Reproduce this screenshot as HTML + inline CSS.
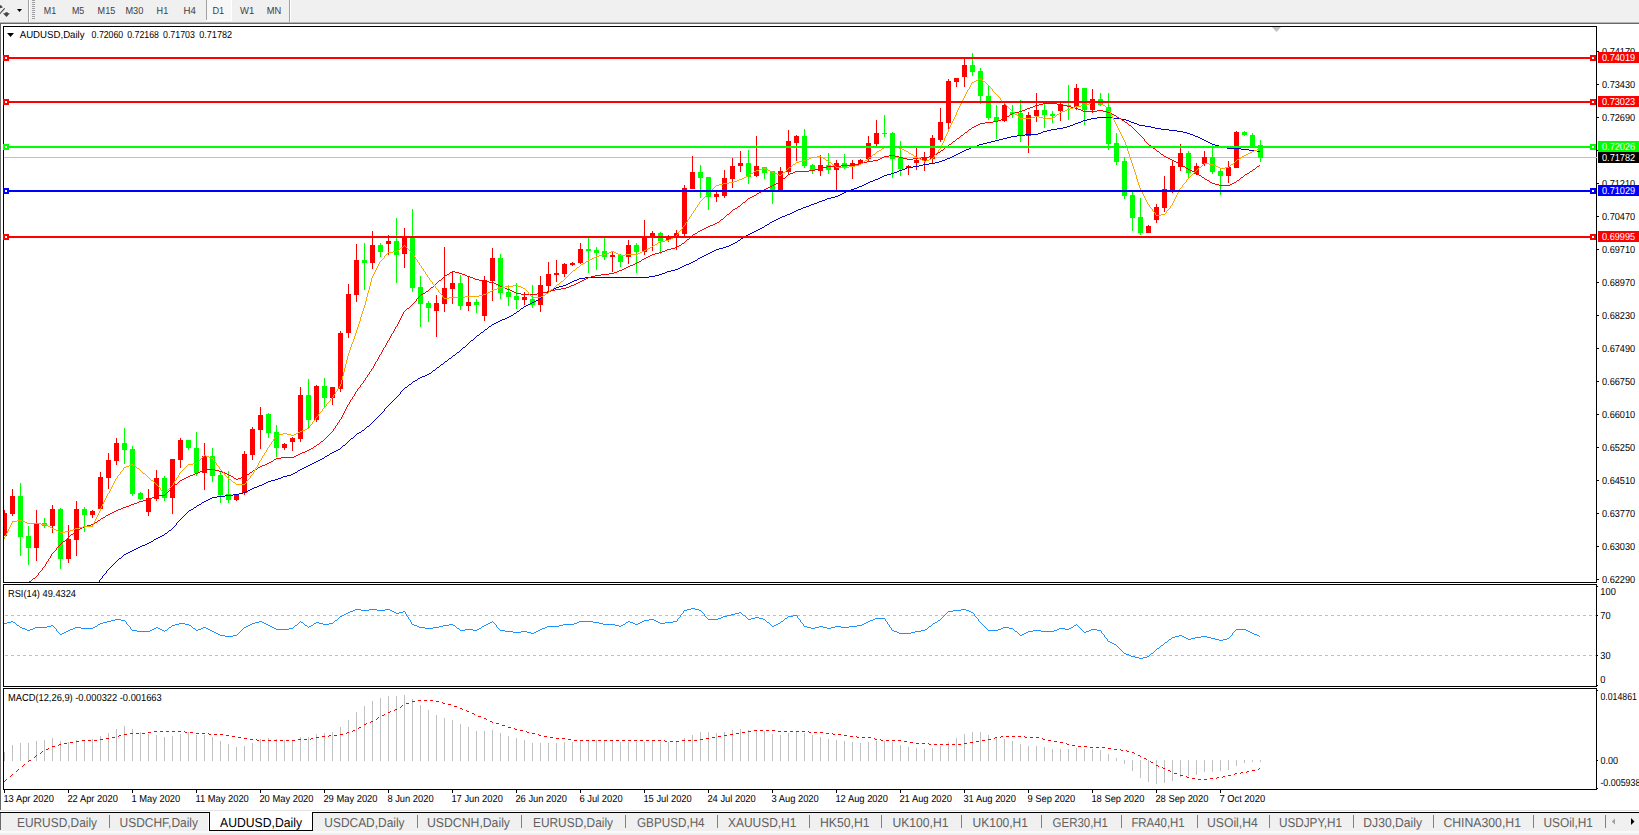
<!DOCTYPE html>
<html lang="en"><head><meta charset="utf-8"><title>AUDUSD,Daily</title>
<style>html,body{margin:0;padding:0;background:#fff;overflow:hidden}body{width:1639px;height:835px;position:relative}svg{display:block;position:absolute;left:0;top:0;font-family:"Liberation Sans", sans-serif}text{white-space:pre}</style></head><body>
<svg width="1639" height="835" viewBox="0 0 1639 835" text-rendering="geometricPrecision">
<g shape-rendering="crispEdges">
<rect x="0" y="0" width="1639" height="835" fill="#ffffff"/>
<rect x="0" y="0" width="1639" height="22" fill="#f0f0f0"/>
<rect x="0" y="22" width="1639" height="1" fill="#b4b4b4"/>
<rect x="0" y="23" width="1639" height="1" fill="#696969"/>
<rect x="0" y="24" width="1" height="787" fill="#696969"/>
<rect x="28" y="0" width="1" height="22" fill="#a0a0a0"/>
<rect x="29" y="0" width="1" height="22" fill="#ffffff"/>
<rect x="32" y="0" width="3" height="1" fill="#a0a0a0"/>
<rect x="32" y="2" width="3" height="1" fill="#a0a0a0"/>
<rect x="32" y="4" width="3" height="1" fill="#a0a0a0"/>
<rect x="32" y="6" width="3" height="1" fill="#a0a0a0"/>
<rect x="32" y="8" width="3" height="1" fill="#a0a0a0"/>
<rect x="32" y="10" width="3" height="1" fill="#a0a0a0"/>
<rect x="32" y="12" width="3" height="1" fill="#a0a0a0"/>
<rect x="32" y="14" width="3" height="1" fill="#a0a0a0"/>
<rect x="32" y="16" width="3" height="1" fill="#a0a0a0"/>
<rect x="32" y="18" width="3" height="1" fill="#a0a0a0"/>
<rect x="206" y="0" width="1" height="20" fill="#a0a0a0"/>
<rect x="207" y="0" width="24" height="20" fill="#f7f7f7"/>
<rect x="231" y="0" width="1" height="21" fill="#fff"/>
<rect x="206" y="20" width="26" height="1" fill="#fff"/>
<rect x="289" y="0" width="1" height="22" fill="#a0a0a0"/>
<rect x="290" y="0" width="1" height="22" fill="#ffffff"/>
</g>
<g fill="#444444"><path d="M0 5.2 L1 5.2 L2.9 7.5 L0 8.3Z"/><path d="M0 12.7 L4.3 7.9 L5.1 8.7 L0 14.3Z"/><path d="M5.3 12.2 H7.8 V13.2 H9.9 L6.5 17 L2.9 13.2 H5.3Z"/></g>
<path d="M17 9 H22 L19.5 12Z" fill="#000"/>
<text x="43.8" y="14" font-size="10.2" fill="#404040" textLength="12.4" lengthAdjust="spacingAndGlyphs">M1</text>
<text x="71.9" y="14" font-size="10.2" fill="#404040" textLength="12.3" lengthAdjust="spacingAndGlyphs">M5</text>
<text x="97.6" y="14" font-size="10.2" fill="#404040" textLength="17.6" lengthAdjust="spacingAndGlyphs">M15</text>
<text x="125.4" y="14" font-size="10.2" fill="#404040" textLength="17.9" lengthAdjust="spacingAndGlyphs">M30</text>
<text x="156.6" y="14" font-size="10.2" fill="#404040" textLength="11.6" lengthAdjust="spacingAndGlyphs">H1</text>
<text x="183.6" y="14" font-size="10.2" fill="#404040" textLength="12.4" lengthAdjust="spacingAndGlyphs">H4</text>
<text x="212.4" y="14" font-size="10.2" fill="#404040" textLength="11.8" lengthAdjust="spacingAndGlyphs">D1</text>
<text x="240" y="14" font-size="10.2" fill="#404040" textLength="14.2" lengthAdjust="spacingAndGlyphs">W1</text>
<text x="266.8" y="14" font-size="10.2" fill="#404040" textLength="14.5" lengthAdjust="spacingAndGlyphs">MN</text>
<g shape-rendering="crispEdges">
<rect x="3" y="26" width="1594" height="1" fill="#000"/>
<rect x="3" y="582" width="1594" height="1" fill="#000"/>
<rect x="3" y="26" width="1" height="557" fill="#000"/>
<rect x="1596" y="26" width="1" height="557" fill="#000"/>
<rect x="3" y="584" width="1594" height="1" fill="#000"/>
<rect x="3" y="686" width="1594" height="1" fill="#000"/>
<rect x="3" y="584" width="1" height="103" fill="#000"/>
<rect x="1596" y="584" width="1" height="103" fill="#000"/>
<rect x="3" y="688" width="1594" height="1" fill="#000"/>
<rect x="3" y="789" width="1594" height="1" fill="#000"/>
<rect x="3" y="688" width="1" height="102" fill="#000"/>
<rect x="1596" y="688" width="1" height="102" fill="#000"/>
</g>
<path d="M1272 27 H1281 L1276.5 32Z" fill="#c0c0c0"/>
<clipPath id="cm"><rect x="4" y="27" width="1592" height="555"/></clipPath>
<g clip-path="url(#cm)" shape-rendering="crispEdges">
<rect x="4" y="157" width="1592" height="1" fill="#c0c0c0"/>
<rect x="4" y="510" width="1" height="26" fill="#ff0000"/>
<rect x="2" y="513" width="5" height="23" fill="#ff0000"/>
<rect x="12" y="489" width="1" height="27" fill="#ff0000"/>
<rect x="10" y="496" width="5" height="18" fill="#ff0000"/>
<rect x="20" y="483" width="1" height="73" fill="#00ff00"/>
<rect x="18" y="496" width="5" height="41" fill="#00ff00"/>
<rect x="28" y="526" width="1" height="39" fill="#00ff00"/>
<rect x="26" y="536" width="5" height="12" fill="#00ff00"/>
<rect x="36" y="510" width="1" height="51" fill="#ff0000"/>
<rect x="34" y="523" width="5" height="25" fill="#ff0000"/>
<rect x="44" y="518" width="1" height="10" fill="#00ff00"/>
<rect x="42" y="523" width="5" height="3" fill="#00ff00"/>
<rect x="52" y="505" width="1" height="28" fill="#ff0000"/>
<rect x="50" y="509" width="5" height="17" fill="#ff0000"/>
<rect x="60" y="508" width="1" height="61" fill="#00ff00"/>
<rect x="58" y="509" width="5" height="50" fill="#00ff00"/>
<rect x="68" y="525" width="1" height="38" fill="#ff0000"/>
<rect x="66" y="539" width="5" height="20" fill="#ff0000"/>
<rect x="76" y="501" width="1" height="55" fill="#ff0000"/>
<rect x="74" y="509" width="5" height="31" fill="#ff0000"/>
<rect x="84" y="507" width="1" height="25" fill="#00ff00"/>
<rect x="82" y="509" width="5" height="6" fill="#00ff00"/>
<rect x="92" y="510" width="1" height="8" fill="#ff0000"/>
<rect x="90" y="511" width="5" height="4" fill="#ff0000"/>
<rect x="100" y="472" width="1" height="37" fill="#ff0000"/>
<rect x="98" y="477" width="5" height="32" fill="#ff0000"/>
<rect x="108" y="453" width="1" height="36" fill="#ff0000"/>
<rect x="106" y="460" width="5" height="18" fill="#ff0000"/>
<rect x="116" y="438" width="1" height="27" fill="#ff0000"/>
<rect x="114" y="443" width="5" height="18" fill="#ff0000"/>
<rect x="124" y="428" width="1" height="36" fill="#00ff00"/>
<rect x="122" y="443" width="5" height="7" fill="#00ff00"/>
<rect x="132" y="446" width="1" height="50" fill="#00ff00"/>
<rect x="130" y="449" width="5" height="45" fill="#00ff00"/>
<rect x="140" y="492" width="1" height="8" fill="#00ff00"/>
<rect x="138" y="493" width="5" height="6" fill="#00ff00"/>
<rect x="148" y="489" width="1" height="27" fill="#ff0000"/>
<rect x="146" y="498" width="5" height="14" fill="#ff0000"/>
<rect x="156" y="470" width="1" height="31" fill="#ff0000"/>
<rect x="154" y="478" width="5" height="21" fill="#ff0000"/>
<rect x="164" y="476" width="1" height="25" fill="#00ff00"/>
<rect x="162" y="478" width="5" height="20" fill="#00ff00"/>
<rect x="172" y="459" width="1" height="55" fill="#ff0000"/>
<rect x="170" y="459" width="5" height="39" fill="#ff0000"/>
<rect x="180" y="438" width="1" height="30" fill="#ff0000"/>
<rect x="178" y="440" width="5" height="20" fill="#ff0000"/>
<rect x="188" y="440" width="1" height="10" fill="#00ff00"/>
<rect x="186" y="440" width="5" height="8" fill="#00ff00"/>
<rect x="196" y="432" width="1" height="44" fill="#00ff00"/>
<rect x="194" y="448" width="5" height="25" fill="#00ff00"/>
<rect x="204" y="443" width="1" height="47" fill="#ff0000"/>
<rect x="202" y="456" width="5" height="17" fill="#ff0000"/>
<rect x="212" y="448" width="1" height="34" fill="#00ff00"/>
<rect x="210" y="456" width="5" height="20" fill="#00ff00"/>
<rect x="220" y="472" width="1" height="31" fill="#00ff00"/>
<rect x="218" y="475" width="5" height="20" fill="#00ff00"/>
<rect x="228" y="471" width="1" height="32" fill="#00ff00"/>
<rect x="226" y="494" width="5" height="6" fill="#00ff00"/>
<rect x="236" y="495" width="1" height="6" fill="#ff0000"/>
<rect x="234" y="495" width="5" height="5" fill="#ff0000"/>
<rect x="244" y="451" width="1" height="44" fill="#ff0000"/>
<rect x="242" y="454" width="5" height="39" fill="#ff0000"/>
<rect x="252" y="427" width="1" height="33" fill="#ff0000"/>
<rect x="250" y="429" width="5" height="26" fill="#ff0000"/>
<rect x="260" y="407" width="1" height="42" fill="#ff0000"/>
<rect x="258" y="415" width="5" height="15" fill="#ff0000"/>
<rect x="268" y="413" width="1" height="25" fill="#00ff00"/>
<rect x="266" y="414" width="5" height="19" fill="#00ff00"/>
<rect x="276" y="425" width="1" height="32" fill="#00ff00"/>
<rect x="274" y="432" width="5" height="16" fill="#00ff00"/>
<rect x="284" y="443" width="1" height="7" fill="#ff0000"/>
<rect x="282" y="444" width="5" height="4" fill="#ff0000"/>
<rect x="292" y="437" width="1" height="14" fill="#ff0000"/>
<rect x="290" y="438" width="5" height="4" fill="#ff0000"/>
<rect x="300" y="387" width="1" height="55" fill="#ff0000"/>
<rect x="298" y="395" width="5" height="44" fill="#ff0000"/>
<rect x="308" y="379" width="1" height="49" fill="#00ff00"/>
<rect x="306" y="395" width="5" height="25" fill="#00ff00"/>
<rect x="316" y="385" width="1" height="37" fill="#ff0000"/>
<rect x="314" y="386" width="5" height="34" fill="#ff0000"/>
<rect x="324" y="378" width="1" height="29" fill="#00ff00"/>
<rect x="322" y="386" width="5" height="12" fill="#00ff00"/>
<rect x="332" y="387" width="1" height="18" fill="#ff0000"/>
<rect x="330" y="387" width="5" height="11" fill="#ff0000"/>
<rect x="340" y="331" width="1" height="61" fill="#ff0000"/>
<rect x="338" y="333" width="5" height="56" fill="#ff0000"/>
<rect x="348" y="284" width="1" height="54" fill="#ff0000"/>
<rect x="346" y="294" width="5" height="39" fill="#ff0000"/>
<rect x="356" y="244" width="1" height="58" fill="#ff0000"/>
<rect x="354" y="260" width="5" height="35" fill="#ff0000"/>
<rect x="364" y="243" width="1" height="47" fill="#00ff00"/>
<rect x="362" y="260" width="5" height="3" fill="#00ff00"/>
<rect x="372" y="231" width="1" height="38" fill="#ff0000"/>
<rect x="370" y="245" width="5" height="18" fill="#ff0000"/>
<rect x="380" y="243" width="1" height="14" fill="#00ff00"/>
<rect x="378" y="245" width="5" height="7" fill="#00ff00"/>
<rect x="388" y="235" width="1" height="20" fill="#ff0000"/>
<rect x="386" y="241" width="5" height="3" fill="#ff0000"/>
<rect x="396" y="218" width="1" height="65" fill="#00ff00"/>
<rect x="394" y="241" width="5" height="14" fill="#00ff00"/>
<rect x="404" y="228" width="1" height="40" fill="#ff0000"/>
<rect x="402" y="238" width="5" height="16" fill="#ff0000"/>
<rect x="412" y="209" width="1" height="83" fill="#00ff00"/>
<rect x="410" y="238" width="5" height="50" fill="#00ff00"/>
<rect x="420" y="276" width="1" height="51" fill="#00ff00"/>
<rect x="418" y="287" width="5" height="17" fill="#00ff00"/>
<rect x="428" y="301" width="1" height="21" fill="#00ff00"/>
<rect x="426" y="303" width="5" height="5" fill="#00ff00"/>
<rect x="436" y="295" width="1" height="42" fill="#ff0000"/>
<rect x="434" y="303" width="5" height="8" fill="#ff0000"/>
<rect x="444" y="247" width="1" height="65" fill="#ff0000"/>
<rect x="442" y="288" width="5" height="16" fill="#ff0000"/>
<rect x="452" y="271" width="1" height="33" fill="#ff0000"/>
<rect x="450" y="283" width="5" height="6" fill="#ff0000"/>
<rect x="460" y="275" width="1" height="35" fill="#00ff00"/>
<rect x="458" y="283" width="5" height="23" fill="#00ff00"/>
<rect x="468" y="276" width="1" height="35" fill="#ff0000"/>
<rect x="466" y="302" width="5" height="4" fill="#ff0000"/>
<rect x="476" y="299" width="1" height="14" fill="#00ff00"/>
<rect x="474" y="302" width="5" height="3" fill="#00ff00"/>
<rect x="484" y="276" width="1" height="45" fill="#ff0000"/>
<rect x="482" y="280" width="5" height="36" fill="#ff0000"/>
<rect x="492" y="248" width="1" height="53" fill="#ff0000"/>
<rect x="490" y="258" width="5" height="23" fill="#ff0000"/>
<rect x="500" y="254" width="1" height="45" fill="#00ff00"/>
<rect x="498" y="258" width="5" height="35" fill="#00ff00"/>
<rect x="508" y="285" width="1" height="21" fill="#00ff00"/>
<rect x="506" y="292" width="5" height="5" fill="#00ff00"/>
<rect x="516" y="283" width="1" height="26" fill="#00ff00"/>
<rect x="514" y="296" width="5" height="4" fill="#00ff00"/>
<rect x="524" y="292" width="1" height="13" fill="#ff0000"/>
<rect x="522" y="297" width="5" height="3" fill="#ff0000"/>
<rect x="532" y="285" width="1" height="23" fill="#00ff00"/>
<rect x="530" y="299" width="5" height="6" fill="#00ff00"/>
<rect x="540" y="276" width="1" height="36" fill="#ff0000"/>
<rect x="538" y="285" width="5" height="20" fill="#ff0000"/>
<rect x="548" y="262" width="1" height="30" fill="#ff0000"/>
<rect x="546" y="274" width="5" height="12" fill="#ff0000"/>
<rect x="556" y="260" width="1" height="22" fill="#ff0000"/>
<rect x="554" y="273" width="5" height="2" fill="#ff0000"/>
<rect x="564" y="263" width="1" height="14" fill="#ff0000"/>
<rect x="562" y="264" width="5" height="10" fill="#ff0000"/>
<rect x="572" y="262" width="1" height="4" fill="#ff0000"/>
<rect x="570" y="263" width="5" height="2" fill="#ff0000"/>
<rect x="580" y="243" width="1" height="21" fill="#ff0000"/>
<rect x="578" y="249" width="5" height="14" fill="#ff0000"/>
<rect x="588" y="236" width="1" height="37" fill="#00ff00"/>
<rect x="586" y="249" width="5" height="2" fill="#00ff00"/>
<rect x="596" y="247" width="1" height="23" fill="#00ff00"/>
<rect x="594" y="250" width="5" height="3" fill="#00ff00"/>
<rect x="604" y="236" width="1" height="24" fill="#00ff00"/>
<rect x="602" y="251" width="5" height="6" fill="#00ff00"/>
<rect x="612" y="251" width="1" height="21" fill="#ff0000"/>
<rect x="610" y="255" width="5" height="2" fill="#ff0000"/>
<rect x="620" y="254" width="1" height="13" fill="#00ff00"/>
<rect x="618" y="255" width="5" height="7" fill="#00ff00"/>
<rect x="628" y="240" width="1" height="24" fill="#ff0000"/>
<rect x="626" y="245" width="5" height="12" fill="#ff0000"/>
<rect x="636" y="243" width="1" height="30" fill="#00ff00"/>
<rect x="634" y="245" width="5" height="7" fill="#00ff00"/>
<rect x="644" y="220" width="1" height="35" fill="#ff0000"/>
<rect x="642" y="236" width="5" height="16" fill="#ff0000"/>
<rect x="652" y="231" width="1" height="20" fill="#ff0000"/>
<rect x="650" y="233" width="5" height="5" fill="#ff0000"/>
<rect x="660" y="232" width="1" height="22" fill="#00ff00"/>
<rect x="658" y="233" width="5" height="8" fill="#00ff00"/>
<rect x="668" y="235" width="1" height="7" fill="#ff0000"/>
<rect x="666" y="237" width="5" height="3" fill="#ff0000"/>
<rect x="676" y="230" width="1" height="20" fill="#ff0000"/>
<rect x="674" y="233" width="5" height="4" fill="#ff0000"/>
<rect x="684" y="185" width="1" height="51" fill="#ff0000"/>
<rect x="682" y="188" width="5" height="46" fill="#ff0000"/>
<rect x="692" y="156" width="1" height="33" fill="#ff0000"/>
<rect x="690" y="172" width="5" height="17" fill="#ff0000"/>
<rect x="700" y="165" width="1" height="33" fill="#00ff00"/>
<rect x="698" y="172" width="5" height="6" fill="#00ff00"/>
<rect x="708" y="177" width="1" height="33" fill="#00ff00"/>
<rect x="706" y="177" width="5" height="20" fill="#00ff00"/>
<rect x="716" y="192" width="1" height="10" fill="#ff0000"/>
<rect x="714" y="194" width="5" height="3" fill="#ff0000"/>
<rect x="724" y="170" width="1" height="28" fill="#ff0000"/>
<rect x="722" y="178" width="5" height="18" fill="#ff0000"/>
<rect x="732" y="158" width="1" height="30" fill="#ff0000"/>
<rect x="730" y="166" width="5" height="13" fill="#ff0000"/>
<rect x="740" y="151" width="1" height="21" fill="#ff0000"/>
<rect x="738" y="163" width="5" height="3" fill="#ff0000"/>
<rect x="748" y="150" width="1" height="34" fill="#00ff00"/>
<rect x="746" y="163" width="5" height="14" fill="#00ff00"/>
<rect x="756" y="136" width="1" height="41" fill="#ff0000"/>
<rect x="754" y="166" width="5" height="10" fill="#ff0000"/>
<rect x="764" y="167" width="1" height="12" fill="#00ff00"/>
<rect x="762" y="167" width="5" height="6" fill="#00ff00"/>
<rect x="772" y="171" width="1" height="33" fill="#00ff00"/>
<rect x="770" y="171" width="5" height="20" fill="#00ff00"/>
<rect x="780" y="167" width="1" height="25" fill="#ff0000"/>
<rect x="778" y="171" width="5" height="20" fill="#ff0000"/>
<rect x="788" y="130" width="1" height="44" fill="#ff0000"/>
<rect x="786" y="141" width="5" height="31" fill="#ff0000"/>
<rect x="796" y="135" width="1" height="26" fill="#ff0000"/>
<rect x="794" y="136" width="5" height="7" fill="#ff0000"/>
<rect x="804" y="129" width="1" height="39" fill="#00ff00"/>
<rect x="802" y="136" width="5" height="30" fill="#00ff00"/>
<rect x="812" y="164" width="1" height="10" fill="#00ff00"/>
<rect x="810" y="165" width="5" height="6" fill="#00ff00"/>
<rect x="820" y="155" width="1" height="21" fill="#ff0000"/>
<rect x="818" y="165" width="5" height="6" fill="#ff0000"/>
<rect x="828" y="153" width="1" height="21" fill="#00ff00"/>
<rect x="826" y="165" width="5" height="5" fill="#00ff00"/>
<rect x="836" y="160" width="1" height="30" fill="#ff0000"/>
<rect x="834" y="163" width="5" height="7" fill="#ff0000"/>
<rect x="844" y="154" width="1" height="15" fill="#00ff00"/>
<rect x="842" y="163" width="5" height="4" fill="#00ff00"/>
<rect x="852" y="160" width="1" height="19" fill="#ff0000"/>
<rect x="850" y="163" width="5" height="4" fill="#ff0000"/>
<rect x="860" y="159" width="1" height="6" fill="#ff0000"/>
<rect x="858" y="160" width="5" height="4" fill="#ff0000"/>
<rect x="868" y="136" width="1" height="26" fill="#ff0000"/>
<rect x="866" y="143" width="5" height="16" fill="#ff0000"/>
<rect x="876" y="120" width="1" height="26" fill="#ff0000"/>
<rect x="874" y="133" width="5" height="11" fill="#ff0000"/>
<rect x="884" y="115" width="1" height="22" fill="#00ff00"/>
<rect x="882" y="133" width="5" height="1" fill="#00ff00"/>
<rect x="892" y="132" width="1" height="46" fill="#00ff00"/>
<rect x="890" y="133" width="5" height="26" fill="#00ff00"/>
<rect x="900" y="141" width="1" height="35" fill="#00ff00"/>
<rect x="898" y="158" width="5" height="11" fill="#00ff00"/>
<rect x="908" y="165" width="1" height="10" fill="#ff0000"/>
<rect x="906" y="166" width="5" height="2" fill="#ff0000"/>
<rect x="916" y="148" width="1" height="22" fill="#ff0000"/>
<rect x="914" y="160" width="5" height="3" fill="#ff0000"/>
<rect x="924" y="152" width="1" height="19" fill="#ff0000"/>
<rect x="922" y="157" width="5" height="4" fill="#ff0000"/>
<rect x="932" y="135" width="1" height="28" fill="#ff0000"/>
<rect x="930" y="138" width="5" height="21" fill="#ff0000"/>
<rect x="940" y="108" width="1" height="34" fill="#ff0000"/>
<rect x="938" y="122" width="5" height="18" fill="#ff0000"/>
<rect x="948" y="79" width="1" height="52" fill="#ff0000"/>
<rect x="946" y="81" width="5" height="42" fill="#ff0000"/>
<rect x="956" y="78" width="1" height="9" fill="#ff0000"/>
<rect x="954" y="78" width="5" height="4" fill="#ff0000"/>
<rect x="964" y="57" width="1" height="30" fill="#ff0000"/>
<rect x="962" y="65" width="5" height="12" fill="#ff0000"/>
<rect x="972" y="53" width="1" height="23" fill="#00ff00"/>
<rect x="970" y="65" width="5" height="7" fill="#00ff00"/>
<rect x="980" y="68" width="1" height="36" fill="#00ff00"/>
<rect x="978" y="71" width="5" height="25" fill="#00ff00"/>
<rect x="988" y="86" width="1" height="34" fill="#00ff00"/>
<rect x="986" y="96" width="5" height="22" fill="#00ff00"/>
<rect x="996" y="105" width="1" height="34" fill="#00ff00"/>
<rect x="994" y="117" width="5" height="4" fill="#00ff00"/>
<rect x="1004" y="103" width="1" height="19" fill="#ff0000"/>
<rect x="1002" y="105" width="5" height="16" fill="#ff0000"/>
<rect x="1012" y="105" width="1" height="13" fill="#00ff00"/>
<rect x="1010" y="112" width="5" height="2" fill="#00ff00"/>
<rect x="1020" y="100" width="1" height="42" fill="#00ff00"/>
<rect x="1018" y="113" width="5" height="23" fill="#00ff00"/>
<rect x="1028" y="112" width="1" height="41" fill="#ff0000"/>
<rect x="1026" y="115" width="5" height="21" fill="#ff0000"/>
<rect x="1036" y="93" width="1" height="29" fill="#ff0000"/>
<rect x="1034" y="110" width="5" height="6" fill="#ff0000"/>
<rect x="1044" y="104" width="1" height="24" fill="#00ff00"/>
<rect x="1042" y="110" width="5" height="5" fill="#00ff00"/>
<rect x="1052" y="111" width="1" height="12" fill="#00ff00"/>
<rect x="1050" y="114" width="5" height="2" fill="#00ff00"/>
<rect x="1060" y="103" width="1" height="18" fill="#ff0000"/>
<rect x="1058" y="104" width="5" height="7" fill="#ff0000"/>
<rect x="1068" y="85" width="1" height="35" fill="#00ff00"/>
<rect x="1066" y="105" width="5" height="1" fill="#00ff00"/>
<rect x="1076" y="84" width="1" height="26" fill="#ff0000"/>
<rect x="1074" y="88" width="5" height="19" fill="#ff0000"/>
<rect x="1084" y="88" width="1" height="37" fill="#00ff00"/>
<rect x="1082" y="88" width="5" height="22" fill="#00ff00"/>
<rect x="1092" y="89" width="1" height="24" fill="#ff0000"/>
<rect x="1090" y="99" width="5" height="11" fill="#ff0000"/>
<rect x="1100" y="93" width="1" height="13" fill="#00ff00"/>
<rect x="1098" y="99" width="5" height="6" fill="#00ff00"/>
<rect x="1108" y="93" width="1" height="57" fill="#00ff00"/>
<rect x="1106" y="107" width="5" height="37" fill="#00ff00"/>
<rect x="1116" y="133" width="1" height="32" fill="#00ff00"/>
<rect x="1114" y="143" width="5" height="19" fill="#00ff00"/>
<rect x="1124" y="157" width="1" height="42" fill="#00ff00"/>
<rect x="1122" y="161" width="5" height="35" fill="#00ff00"/>
<rect x="1132" y="190" width="1" height="41" fill="#00ff00"/>
<rect x="1130" y="195" width="5" height="23" fill="#00ff00"/>
<rect x="1140" y="198" width="1" height="37" fill="#00ff00"/>
<rect x="1138" y="217" width="5" height="16" fill="#00ff00"/>
<rect x="1148" y="225" width="1" height="8" fill="#ff0000"/>
<rect x="1146" y="226" width="5" height="7" fill="#ff0000"/>
<rect x="1156" y="204" width="1" height="19" fill="#ff0000"/>
<rect x="1154" y="207" width="5" height="13" fill="#ff0000"/>
<rect x="1164" y="176" width="1" height="36" fill="#ff0000"/>
<rect x="1162" y="189" width="5" height="19" fill="#ff0000"/>
<rect x="1172" y="161" width="1" height="32" fill="#ff0000"/>
<rect x="1170" y="166" width="5" height="25" fill="#ff0000"/>
<rect x="1180" y="144" width="1" height="27" fill="#ff0000"/>
<rect x="1178" y="153" width="5" height="14" fill="#ff0000"/>
<rect x="1188" y="151" width="1" height="27" fill="#00ff00"/>
<rect x="1186" y="153" width="5" height="20" fill="#00ff00"/>
<rect x="1196" y="163" width="1" height="12" fill="#ff0000"/>
<rect x="1194" y="166" width="5" height="8" fill="#ff0000"/>
<rect x="1204" y="151" width="1" height="15" fill="#ff0000"/>
<rect x="1202" y="157" width="5" height="7" fill="#ff0000"/>
<rect x="1212" y="145" width="1" height="29" fill="#00ff00"/>
<rect x="1210" y="157" width="5" height="15" fill="#00ff00"/>
<rect x="1220" y="169" width="1" height="26" fill="#00ff00"/>
<rect x="1218" y="171" width="5" height="5" fill="#00ff00"/>
<rect x="1228" y="161" width="1" height="22" fill="#ff0000"/>
<rect x="1226" y="167" width="5" height="9" fill="#ff0000"/>
<rect x="1236" y="131" width="1" height="37" fill="#ff0000"/>
<rect x="1234" y="132" width="5" height="36" fill="#ff0000"/>
<rect x="1244" y="131" width="1" height="5" fill="#00ff00"/>
<rect x="1242" y="132" width="5" height="3" fill="#00ff00"/>
<rect x="1252" y="133" width="1" height="15" fill="#00ff00"/>
<rect x="1250" y="135" width="5" height="13" fill="#00ff00"/>
<rect x="1260" y="140" width="1" height="22" fill="#00ff00"/>
<rect x="1258" y="145" width="5" height="13" fill="#00ff00"/>
<path d="M99 580h1v2h-1zM102 576h1v2h-1zM106 571h1v2h-1zM176 523h1v2h-1zM384 409h1v2h-1zM400 392h1v2h-1zM1097 117h16v1h-16zM1091 118h6v1h-6zM1113 118h8v1h-8zM1087 119h4v1h-4zM1121 119h5v1h-5zM1083 120h4v1h-4zM1126 120h3v1h-3zM1081 121h2v1h-2zM1129 121h2v1h-2zM1078 122h3v1h-3zM1131 122h3v1h-3zM1075 123h3v1h-3zM1134 123h3v1h-3zM1073 124h2v1h-2zM1137 124h2v1h-2zM1070 125h3v1h-3zM1139 125h6v1h-6zM1067 126h3v1h-3zM1145 126h6v1h-6zM1063 127h4v1h-4zM1151 127h4v1h-4zM1057 128h6v1h-6zM1155 128h6v1h-6zM1051 129h6v1h-6zM1161 129h8v1h-8zM1047 130h4v1h-4zM1169 130h8v1h-8zM1043 131h4v1h-4zM1177 131h6v1h-6zM1041 132h2v1h-2zM1183 132h4v1h-4zM1038 133h3v1h-3zM1187 133h3v1h-3zM1025 134h13v1h-13zM1190 134h3v1h-3zM1017 135h8v1h-8zM1193 135h2v1h-2zM1011 136h6v1h-6zM1195 136h3v1h-3zM1007 137h4v1h-4zM1198 137h2v1h-2zM1003 138h4v1h-4zM1200 138h2v1h-2zM999 139h4v1h-4zM1202 139h2v1h-2zM995 140h4v1h-4zM1204 140h2v1h-2zM991 141h4v1h-4zM1206 141h2v1h-2zM987 142h4v1h-4zM1208 142h2v1h-2zM983 143h4v1h-4zM1210 143h2v1h-2zM979 144h4v1h-4zM1212 144h3v1h-3zM977 145h2v1h-2zM1215 145h4v1h-4zM974 146h3v1h-3zM1219 146h4v1h-4zM971 147h3v1h-3zM1223 147h4v1h-4zM969 148h2v1h-2zM1227 148h14v1h-14zM966 149h3v1h-3zM1241 149h8v1h-8zM964 150h2v1h-2zM1249 150h8v1h-8zM962 151h2v1h-2zM1257 151h3v1h-3zM960 152h2v1h-2zM958 153h2v1h-2zM956 154h2v1h-2zM954 155h2v1h-2zM952 156h2v1h-2zM950 157h2v1h-2zM947 158h3v1h-3zM945 159h2v1h-2zM942 160h3v1h-3zM939 161h3v1h-3zM935 162h4v1h-4zM929 163h6v1h-6zM923 164h6v1h-6zM919 165h4v1h-4zM913 166h6v1h-6zM907 167h6v1h-6zM905 168h2v1h-2zM902 169h3v1h-3zM899 170h3v1h-3zM897 171h2v1h-2zM894 172h3v1h-3zM891 173h3v1h-3zM887 174h4v1h-4zM884 175h3v1h-3zM882 176h2v1h-2zM880 177h2v1h-2zM878 178h2v1h-2zM875 179h3v1h-3zM873 180h2v1h-2zM870 181h3v1h-3zM868 182h2v1h-2zM866 183h2v1h-2zM864 184h2v1h-2zM862 185h2v1h-2zM859 186h3v1h-3zM857 187h2v1h-2zM854 188h3v1h-3zM851 189h3v1h-3zM849 190h2v1h-2zM846 191h3v1h-3zM844 192h2v1h-2zM842 193h2v1h-2zM840 194h2v1h-2zM838 195h2v1h-2zM835 196h3v1h-3zM831 197h4v1h-4zM827 198h4v1h-4zM825 199h2v1h-2zM822 200h3v1h-3zM819 201h3v1h-3zM817 202h2v1h-2zM814 203h3v1h-3zM811 204h3v1h-3zM809 205h2v1h-2zM806 206h3v1h-3zM803 207h3v1h-3zM801 208h2v1h-2zM798 209h3v1h-3zM796 210h2v1h-2zM794 211h2v1h-2zM792 212h2v1h-2zM790 213h2v1h-2zM787 214h3v1h-3zM785 215h2v1h-2zM782 216h3v1h-3zM780 217h2v1h-2zM778 218h2v1h-2zM776 219h2v1h-2zM774 220h2v1h-2zM772 221h2v1h-2zM770 222h2v1h-2zM769 223h1v1h-1zM767 224h2v1h-2zM765 225h2v1h-2zM764 226h1v1h-1zM762 227h2v1h-2zM760 228h2v1h-2zM758 229h2v1h-2zM756 230h2v1h-2zM754 231h2v1h-2zM752 232h2v1h-2zM750 233h2v1h-2zM748 234h2v1h-2zM746 235h2v1h-2zM745 236h1v1h-1zM743 237h2v1h-2zM741 238h2v1h-2zM740 239h1v1h-1zM738 240h2v1h-2zM737 241h1v1h-1zM735 242h2v1h-2zM733 243h2v1h-2zM731 244h2v1h-2zM729 245h2v1h-2zM726 246h3v1h-3zM723 247h3v1h-3zM719 248h4v1h-4zM716 249h3v1h-3zM714 250h2v1h-2zM712 251h2v1h-2zM710 252h2v1h-2zM708 253h2v1h-2zM706 254h2v1h-2zM704 255h2v1h-2zM702 256h2v1h-2zM700 257h2v1h-2zM698 258h2v1h-2zM697 259h1v1h-1zM695 260h2v1h-2zM693 261h2v1h-2zM691 262h2v1h-2zM689 263h2v1h-2zM686 264h3v1h-3zM684 265h2v1h-2zM682 266h2v1h-2zM680 267h2v1h-2zM678 268h2v1h-2zM675 269h3v1h-3zM671 270h4v1h-4zM667 271h4v1h-4zM665 272h2v1h-2zM662 273h3v1h-3zM659 274h3v1h-3zM655 275h4v1h-4zM649 276h6v1h-6zM585 277h64v1h-64zM579 278h6v1h-6zM577 279h2v1h-2zM574 280h3v1h-3zM572 281h2v1h-2zM570 282h2v1h-2zM568 283h2v1h-2zM566 284h2v1h-2zM563 285h3v1h-3zM559 286h4v1h-4zM556 287h3v1h-3zM554 288h2v1h-2zM552 289h2v1h-2zM550 290h2v1h-2zM548 291h2v1h-2zM547 292h1v1h-1zM546 293h1v1h-1zM545 294h1v1h-1zM543 295h2v1h-2zM542 296h1v1h-1zM541 297h1v1h-1zM540 298h1v1h-1zM538 299h2v1h-2zM536 300h2v1h-2zM534 301h2v1h-2zM532 302h2v1h-2zM530 303h2v1h-2zM528 304h2v1h-2zM526 305h2v1h-2zM524 306h2v1h-2zM523 307h1v1h-1zM521 308h2v1h-2zM520 309h1v1h-1zM519 310h1v1h-1zM517 311h2v1h-2zM516 312h1v1h-1zM514 313h2v1h-2zM513 314h1v1h-1zM511 315h2v1h-2zM509 316h2v1h-2zM507 317h2v1h-2zM505 318h2v1h-2zM502 319h3v1h-3zM500 320h2v1h-2zM498 321h2v1h-2zM496 322h2v1h-2zM494 323h2v1h-2zM492 324h2v1h-2zM491 325h1v1h-1zM489 326h2v1h-2zM488 327h1v1h-1zM487 328h1v1h-1zM485 329h2v1h-2zM484 330h1v1h-1zM483 331h1v1h-1zM481 332h2v1h-2zM480 333h1v1h-1zM479 334h1v1h-1zM477 335h2v1h-2zM476 336h1v1h-1zM475 337h1v1h-1zM474 338h1v1h-1zM473 339h1v1h-1zM471 340h2v1h-2zM470 341h1v1h-1zM469 342h1v1h-1zM468 343h1v1h-1zM467 344h1v1h-1zM466 345h1v1h-1zM465 346h1v1h-1zM463 347h2v1h-2zM462 348h1v1h-1zM461 349h1v1h-1zM460 350h1v1h-1zM459 351h1v1h-1zM457 352h2v1h-2zM456 353h1v1h-1zM455 354h1v1h-1zM453 355h2v1h-2zM452 356h1v1h-1zM451 357h1v1h-1zM449 358h2v1h-2zM448 359h1v1h-1zM447 360h1v1h-1zM445 361h2v1h-2zM444 362h1v1h-1zM443 363h1v1h-1zM441 364h2v1h-2zM440 365h1v1h-1zM439 366h1v1h-1zM437 367h2v1h-2zM436 368h1v1h-1zM435 369h1v1h-1zM433 370h2v1h-2zM432 371h1v1h-1zM431 372h1v1h-1zM429 373h2v1h-2zM427 374h2v1h-2zM425 375h2v1h-2zM422 376h3v1h-3zM420 377h2v1h-2zM418 378h2v1h-2zM417 379h1v1h-1zM415 380h2v1h-2zM413 381h2v1h-2zM412 382h1v1h-1zM411 383h1v1h-1zM409 384h2v1h-2zM408 385h1v1h-1zM407 386h1v1h-1zM405 387h2v1h-2zM404 388h1v1h-1zM403 389h1v1h-1zM402 390h1v1h-1zM401 391h1v1h-1zM399 394h1v1h-1zM398 395h1v1h-1zM397 396h1v1h-1zM396 397h1v1h-1zM395 398h1v1h-1zM394 399h1v1h-1zM393 400h1v1h-1zM392 401h1v1h-1zM391 402h1v1h-1zM390 403h1v1h-1zM389 404h1v1h-1zM388 405h1v1h-1zM387 406h1v1h-1zM386 407h1v1h-1zM385 408h1v1h-1zM383 411h1v1h-1zM382 412h1v1h-1zM381 413h1v1h-1zM380 414h1v1h-1zM379 415h1v1h-1zM378 416h1v1h-1zM377 417h1v1h-1zM376 418h1v1h-1zM375 419h1v1h-1zM374 420h1v1h-1zM373 421h1v1h-1zM372 422h1v1h-1zM371 423h1v1h-1zM370 424h1v1h-1zM369 425h1v1h-1zM367 426h2v1h-2zM366 427h1v1h-1zM365 428h1v1h-1zM364 429h1v1h-1zM362 430h2v1h-2zM361 431h1v1h-1zM359 432h2v1h-2zM357 433h2v1h-2zM356 434h1v1h-1zM355 435h1v1h-1zM354 436h1v1h-1zM353 437h1v1h-1zM351 438h2v1h-2zM350 439h1v1h-1zM349 440h1v1h-1zM348 441h1v1h-1zM347 442h1v1h-1zM346 443h1v1h-1zM345 444h1v1h-1zM343 445h2v1h-2zM342 446h1v1h-1zM341 447h1v1h-1zM340 448h1v1h-1zM338 449h2v1h-2zM336 450h2v1h-2zM334 451h2v1h-2zM332 452h2v1h-2zM330 453h2v1h-2zM329 454h1v1h-1zM327 455h2v1h-2zM325 456h2v1h-2zM324 457h1v1h-1zM322 458h2v1h-2zM320 459h2v1h-2zM318 460h2v1h-2zM316 461h2v1h-2zM314 462h2v1h-2zM312 463h2v1h-2zM310 464h2v1h-2zM308 465h2v1h-2zM306 466h2v1h-2zM304 467h2v1h-2zM302 468h2v1h-2zM300 469h2v1h-2zM298 470h2v1h-2zM297 471h1v1h-1zM295 472h2v1h-2zM293 473h2v1h-2zM291 474h2v1h-2zM287 475h4v1h-4zM283 476h4v1h-4zM281 477h2v1h-2zM278 478h3v1h-3zM275 479h3v1h-3zM271 480h4v1h-4zM268 481h3v1h-3zM266 482h2v1h-2zM264 483h2v1h-2zM262 484h2v1h-2zM259 485h3v1h-3zM257 486h2v1h-2zM254 487h3v1h-3zM252 488h2v1h-2zM250 489h2v1h-2zM248 490h2v1h-2zM246 491h2v1h-2zM243 492h3v1h-3zM239 493h4v1h-4zM233 494h6v1h-6zM225 495h8v1h-8zM217 496h8v1h-8zM212 497h5v1h-5zM210 498h2v1h-2zM208 499h2v1h-2zM206 500h2v1h-2zM204 501h2v1h-2zM202 502h2v1h-2zM201 503h1v1h-1zM199 504h2v1h-2zM197 505h2v1h-2zM196 506h1v1h-1zM194 507h2v1h-2zM193 508h1v1h-1zM191 509h2v1h-2zM189 510h2v1h-2zM188 511h1v1h-1zM187 512h1v1h-1zM186 513h1v1h-1zM185 514h1v1h-1zM184 515h1v1h-1zM183 516h1v1h-1zM182 517h1v1h-1zM181 518h1v1h-1zM180 519h1v1h-1zM179 520h1v1h-1zM178 521h1v1h-1zM177 522h1v1h-1zM175 525h1v1h-1zM174 526h1v1h-1zM173 527h1v1h-1zM172 528h1v1h-1zM171 529h1v1h-1zM169 530h2v1h-2zM168 531h1v1h-1zM167 532h1v1h-1zM165 533h2v1h-2zM164 534h1v1h-1zM162 535h2v1h-2zM160 536h2v1h-2zM158 537h2v1h-2zM156 538h2v1h-2zM154 539h2v1h-2zM153 540h1v1h-1zM151 541h2v1h-2zM149 542h2v1h-2zM147 543h2v1h-2zM145 544h2v1h-2zM142 545h3v1h-3zM140 546h2v1h-2zM138 547h2v1h-2zM136 548h2v1h-2zM134 549h2v1h-2zM132 550h2v1h-2zM130 551h2v1h-2zM128 552h2v1h-2zM126 553h2v1h-2zM124 554h2v1h-2zM123 555h1v1h-1zM122 556h1v1h-1zM121 557h1v1h-1zM119 558h2v1h-2zM118 559h1v1h-1zM117 560h1v1h-1zM116 561h1v1h-1zM115 562h1v1h-1zM114 563h1v1h-1zM113 564h1v1h-1zM112 565h1v1h-1zM111 566h1v1h-1zM110 567h1v1h-1zM109 568h1v1h-1zM108 569h1v1h-1zM107 570h1v1h-1zM105 573h1v1h-1zM104 574h1v1h-1zM103 575h1v1h-1zM101 578h1v1h-1zM100 579h1v1h-1zM98 582h1v1h-1z" fill="#0000cd"/>
<path d="M38 573h1v2h-1zM42 568h1v2h-1zM45 564h1v2h-1zM46 562h1v2h-1zM48 559h1v2h-1zM50 556h1v2h-1zM51 554h1v2h-1zM56 548h1v2h-1zM333 429h1v2h-1zM335 426h1v2h-1zM337 423h1v2h-1zM339 420h1v2h-1zM341 417h1v2h-1zM342 415h1v2h-1zM343 413h1v2h-1zM344 411h1v2h-1zM345 409h1v2h-1zM346 407h1v2h-1zM347 405h1v2h-1zM349 402h1v2h-1zM350 400h1v2h-1zM352 397h1v2h-1zM354 394h1v2h-1zM355 392h1v2h-1zM357 389h1v2h-1zM360 385h1v2h-1zM363 381h1v2h-1zM365 378h1v2h-1zM367 375h1v2h-1zM369 372h1v2h-1zM371 369h1v2h-1zM373 366h1v2h-1zM374 364h1v2h-1zM375 362h1v2h-1zM377 359h1v2h-1zM378 357h1v2h-1zM379 355h1v2h-1zM381 352h1v2h-1zM382 350h1v2h-1zM383 348h1v2h-1zM385 345h1v2h-1zM386 343h1v2h-1zM387 341h1v2h-1zM389 338h1v2h-1zM390 336h1v2h-1zM391 334h1v2h-1zM393 331h1v2h-1zM394 329h1v2h-1zM395 327h1v2h-1zM397 324h1v2h-1zM398 322h1v2h-1zM399 320h1v2h-1zM400 318h1v2h-1zM401 316h1v2h-1zM402 314h1v2h-1zM403 312h1v2h-1zM416 299h1v2h-1zM1144 139h1v2h-1zM1043 103h14v1h-14zM1039 104h4v1h-4zM1057 104h6v1h-6zM1035 105h4v1h-4zM1063 105h4v1h-4zM1033 106h2v1h-2zM1067 106h4v1h-4zM1030 107h3v1h-3zM1071 107h4v1h-4zM1027 108h3v1h-3zM1075 108h3v1h-3zM1025 109h2v1h-2zM1078 109h3v1h-3zM1022 110h3v1h-3zM1081 110h2v1h-2zM1097 110h6v1h-6zM1019 111h3v1h-3zM1083 111h14v1h-14zM1103 111h4v1h-4zM1015 112h4v1h-4zM1107 112h3v1h-3zM1012 113h3v1h-3zM1110 113h2v1h-2zM1010 114h2v1h-2zM1112 114h2v1h-2zM1009 115h1v1h-1zM1114 115h2v1h-2zM1007 116h2v1h-2zM1116 116h1v1h-1zM1005 117h2v1h-2zM1117 117h2v1h-2zM1003 118h2v1h-2zM1119 118h2v1h-2zM1001 119h2v1h-2zM1121 119h1v1h-1zM998 120h3v1h-3zM1122 120h2v1h-2zM993 121h5v1h-5zM1124 121h1v1h-1zM985 122h8v1h-8zM1125 122h2v1h-2zM980 123h5v1h-5zM1127 123h1v1h-1zM978 124h2v1h-2zM1128 124h1v1h-1zM976 125h2v1h-2zM1129 125h2v1h-2zM974 126h2v1h-2zM1131 126h1v1h-1zM972 127h2v1h-2zM1132 127h1v1h-1zM971 128h1v1h-1zM1133 128h1v1h-1zM969 129h2v1h-2zM1134 129h1v1h-1zM968 130h1v1h-1zM1135 130h1v1h-1zM967 131h1v1h-1zM1136 131h1v1h-1zM965 132h2v1h-2zM1137 132h1v1h-1zM964 133h1v1h-1zM1138 133h1v1h-1zM963 134h1v1h-1zM1139 134h1v1h-1zM961 135h2v1h-2zM1140 135h1v1h-1zM960 136h1v1h-1zM1141 136h1v1h-1zM959 137h1v1h-1zM1142 137h1v1h-1zM957 138h2v1h-2zM1143 138h1v1h-1zM956 139h1v1h-1zM955 140h1v1h-1zM953 141h2v1h-2zM1145 141h1v1h-1zM952 142h1v1h-1zM1146 142h1v1h-1zM951 143h1v1h-1zM1147 143h1v1h-1zM949 144h2v1h-2zM1148 144h1v1h-1zM948 145h1v1h-1zM1149 145h2v1h-2zM947 146h1v1h-1zM1151 146h1v1h-1zM945 147h2v1h-2zM1152 147h1v1h-1zM944 148h1v1h-1zM1153 148h2v1h-2zM943 149h1v1h-1zM1155 149h1v1h-1zM941 150h2v1h-2zM1156 150h1v1h-1zM940 151h1v1h-1zM1157 151h2v1h-2zM938 152h2v1h-2zM1159 152h1v1h-1zM937 153h1v1h-1zM1160 153h1v1h-1zM935 154h2v1h-2zM1161 154h2v1h-2zM889 155h6v1h-6zM933 155h2v1h-2zM1163 155h1v1h-1zM884 156h5v1h-5zM895 156h4v1h-4zM929 156h4v1h-4zM1164 156h2v1h-2zM882 157h2v1h-2zM899 157h4v1h-4zM921 157h8v1h-8zM1166 157h2v1h-2zM880 158h2v1h-2zM903 158h4v1h-4zM913 158h8v1h-8zM1168 158h2v1h-2zM878 159h2v1h-2zM907 159h6v1h-6zM1170 159h2v1h-2zM873 160h5v1h-5zM1172 160h2v1h-2zM867 161h6v1h-6zM1174 161h2v1h-2zM863 162h4v1h-4zM1176 162h2v1h-2zM859 163h4v1h-4zM1178 163h2v1h-2zM855 164h4v1h-4zM1180 164h1v1h-1zM841 165h14v1h-14zM1181 165h2v1h-2zM1259 165h1v1h-1zM827 166h14v1h-14zM1183 166h2v1h-2zM1257 166h2v1h-2zM823 167h4v1h-4zM1185 167h1v1h-1zM1256 167h1v1h-1zM819 168h4v1h-4zM1186 168h2v1h-2zM1255 168h1v1h-1zM815 169h4v1h-4zM1188 169h2v1h-2zM1253 169h2v1h-2zM809 170h6v1h-6zM1190 170h2v1h-2zM1252 170h1v1h-1zM795 171h14v1h-14zM1192 171h2v1h-2zM1250 171h2v1h-2zM793 172h2v1h-2zM1194 172h2v1h-2zM1249 172h1v1h-1zM790 173h3v1h-3zM1196 173h1v1h-1zM1247 173h2v1h-2zM788 174h2v1h-2zM1197 174h2v1h-2zM1245 174h2v1h-2zM787 175h1v1h-1zM1199 175h2v1h-2zM1244 175h1v1h-1zM786 176h1v1h-1zM1201 176h1v1h-1zM1243 176h1v1h-1zM785 177h1v1h-1zM1202 177h2v1h-2zM1241 177h2v1h-2zM783 178h2v1h-2zM1204 178h1v1h-1zM1240 178h1v1h-1zM782 179h1v1h-1zM1205 179h2v1h-2zM1239 179h1v1h-1zM781 180h1v1h-1zM1207 180h2v1h-2zM1237 180h2v1h-2zM780 181h1v1h-1zM1209 181h1v1h-1zM1236 181h1v1h-1zM778 182h2v1h-2zM1210 182h2v1h-2zM1234 182h2v1h-2zM776 183h2v1h-2zM1212 183h3v1h-3zM1232 183h2v1h-2zM774 184h2v1h-2zM1215 184h4v1h-4zM1230 184h2v1h-2zM772 185h2v1h-2zM1219 185h11v1h-11zM770 186h2v1h-2zM768 187h2v1h-2zM766 188h2v1h-2zM764 189h2v1h-2zM762 190h2v1h-2zM761 191h1v1h-1zM759 192h2v1h-2zM757 193h2v1h-2zM756 194h1v1h-1zM754 195h2v1h-2zM752 196h2v1h-2zM750 197h2v1h-2zM748 198h2v1h-2zM747 199h1v1h-1zM746 200h1v1h-1zM745 201h1v1h-1zM743 202h2v1h-2zM742 203h1v1h-1zM741 204h1v1h-1zM740 205h1v1h-1zM738 206h2v1h-2zM737 207h1v1h-1zM735 208h2v1h-2zM733 209h2v1h-2zM732 210h1v1h-1zM731 211h1v1h-1zM730 212h1v1h-1zM729 213h1v1h-1zM727 214h2v1h-2zM726 215h1v1h-1zM725 216h1v1h-1zM724 217h1v1h-1zM723 218h1v1h-1zM721 219h2v1h-2zM720 220h1v1h-1zM719 221h1v1h-1zM717 222h2v1h-2zM715 223h2v1h-2zM713 224h2v1h-2zM710 225h3v1h-3zM708 226h2v1h-2zM706 227h2v1h-2zM704 228h2v1h-2zM702 229h2v1h-2zM700 230h2v1h-2zM698 231h2v1h-2zM697 232h1v1h-1zM695 233h2v1h-2zM693 234h2v1h-2zM692 235h1v1h-1zM691 236h1v1h-1zM690 237h1v1h-1zM689 238h1v1h-1zM687 239h2v1h-2zM686 240h1v1h-1zM685 241h1v1h-1zM684 242h1v1h-1zM682 243h2v1h-2zM681 244h1v1h-1zM679 245h2v1h-2zM677 246h2v1h-2zM675 247h2v1h-2zM671 248h4v1h-4zM667 249h4v1h-4zM665 250h2v1h-2zM662 251h3v1h-3zM659 252h3v1h-3zM655 253h4v1h-4zM652 254h3v1h-3zM650 255h2v1h-2zM648 256h2v1h-2zM646 257h2v1h-2zM644 258h2v1h-2zM642 259h2v1h-2zM641 260h1v1h-1zM639 261h2v1h-2zM637 262h2v1h-2zM635 263h2v1h-2zM633 264h2v1h-2zM630 265h3v1h-3zM628 266h2v1h-2zM626 267h2v1h-2zM624 268h2v1h-2zM622 269h2v1h-2zM619 270h3v1h-3zM452 271h3v1h-3zM617 271h2v1h-2zM450 272h2v1h-2zM455 272h4v1h-4zM614 272h3v1h-3zM449 273h1v1h-1zM459 273h3v1h-3zM609 273h5v1h-5zM447 274h2v1h-2zM462 274h3v1h-3zM601 274h8v1h-8zM445 275h2v1h-2zM465 275h2v1h-2zM595 275h6v1h-6zM444 276h1v1h-1zM467 276h3v1h-3zM591 276h4v1h-4zM443 277h1v1h-1zM470 277h3v1h-3zM588 277h3v1h-3zM442 278h1v1h-1zM473 278h2v1h-2zM586 278h2v1h-2zM441 279h1v1h-1zM475 279h4v1h-4zM584 279h2v1h-2zM439 280h2v1h-2zM479 280h4v1h-4zM582 280h2v1h-2zM438 281h1v1h-1zM483 281h6v1h-6zM580 281h2v1h-2zM437 282h1v1h-1zM489 282h5v1h-5zM578 282h2v1h-2zM436 283h1v1h-1zM494 283h2v1h-2zM576 283h2v1h-2zM435 284h1v1h-1zM496 284h2v1h-2zM574 284h2v1h-2zM434 285h1v1h-1zM498 285h2v1h-2zM571 285h3v1h-3zM433 286h1v1h-1zM500 286h2v1h-2zM569 286h2v1h-2zM431 287h2v1h-2zM502 287h3v1h-3zM566 287h3v1h-3zM430 288h1v1h-1zM505 288h2v1h-2zM561 288h5v1h-5zM429 289h1v1h-1zM507 289h3v1h-3zM555 289h6v1h-6zM428 290h1v1h-1zM510 290h2v1h-2zM551 290h4v1h-4zM426 291h2v1h-2zM512 291h2v1h-2zM547 291h4v1h-4zM425 292h1v1h-1zM514 292h2v1h-2zM543 292h4v1h-4zM423 293h2v1h-2zM516 293h5v1h-5zM537 293h6v1h-6zM421 294h2v1h-2zM521 294h16v1h-16zM420 295h1v1h-1zM419 296h1v1h-1zM418 297h1v1h-1zM417 298h1v1h-1zM415 301h1v1h-1zM414 302h1v1h-1zM413 303h1v1h-1zM412 304h1v1h-1zM411 305h1v1h-1zM410 306h1v1h-1zM409 307h1v1h-1zM407 308h2v1h-2zM406 309h1v1h-1zM405 310h1v1h-1zM404 311h1v1h-1zM396 326h1v1h-1zM392 333h1v1h-1zM388 340h1v1h-1zM384 347h1v1h-1zM380 354h1v1h-1zM376 361h1v1h-1zM372 368h1v1h-1zM370 371h1v1h-1zM368 374h1v1h-1zM366 377h1v1h-1zM364 380h1v1h-1zM362 383h1v1h-1zM361 384h1v1h-1zM359 387h1v1h-1zM358 388h1v1h-1zM356 391h1v1h-1zM353 396h1v1h-1zM351 399h1v1h-1zM348 404h1v1h-1zM340 419h1v1h-1zM338 422h1v1h-1zM336 425h1v1h-1zM334 428h1v1h-1zM332 431h1v1h-1zM331 432h1v1h-1zM330 433h1v1h-1zM329 434h1v1h-1zM328 435h1v1h-1zM327 436h1v1h-1zM326 437h1v1h-1zM325 438h1v1h-1zM324 439h1v1h-1zM323 440h1v1h-1zM321 441h2v1h-2zM320 442h1v1h-1zM319 443h1v1h-1zM317 444h2v1h-2zM316 445h1v1h-1zM314 446h2v1h-2zM313 447h1v1h-1zM311 448h2v1h-2zM309 449h2v1h-2zM307 450h2v1h-2zM305 451h2v1h-2zM302 452h3v1h-3zM300 453h2v1h-2zM298 454h2v1h-2zM296 455h2v1h-2zM294 456h2v1h-2zM281 457h13v1h-13zM276 458h5v1h-5zM274 459h2v1h-2zM273 460h1v1h-1zM271 461h2v1h-2zM269 462h2v1h-2zM267 463h2v1h-2zM265 464h2v1h-2zM262 465h3v1h-3zM260 466h2v1h-2zM258 467h2v1h-2zM257 468h1v1h-1zM204 469h11v1h-11zM255 469h2v1h-2zM202 470h2v1h-2zM215 470h4v1h-4zM253 470h2v1h-2zM200 471h2v1h-2zM219 471h3v1h-3zM252 471h1v1h-1zM198 472h2v1h-2zM222 472h3v1h-3zM250 472h2v1h-2zM195 473h3v1h-3zM225 473h2v1h-2zM249 473h1v1h-1zM193 474h2v1h-2zM227 474h2v1h-2zM247 474h2v1h-2zM190 475h3v1h-3zM229 475h2v1h-2zM245 475h2v1h-2zM188 476h2v1h-2zM231 476h2v1h-2zM243 476h2v1h-2zM186 477h2v1h-2zM233 477h1v1h-1zM241 477h2v1h-2zM184 478h2v1h-2zM234 478h2v1h-2zM238 478h3v1h-3zM182 479h2v1h-2zM236 479h2v1h-2zM180 480h2v1h-2zM179 481h1v1h-1zM178 482h1v1h-1zM177 483h1v1h-1zM175 484h2v1h-2zM174 485h1v1h-1zM173 486h1v1h-1zM172 487h1v1h-1zM171 488h1v1h-1zM170 489h1v1h-1zM169 490h1v1h-1zM168 491h1v1h-1zM167 492h1v1h-1zM166 493h1v1h-1zM165 494h1v1h-1zM156 495h9v1h-9zM154 496h2v1h-2zM152 497h2v1h-2zM150 498h2v1h-2zM147 499h3v1h-3zM143 500h4v1h-4zM139 501h4v1h-4zM137 502h2v1h-2zM134 503h3v1h-3zM131 504h3v1h-3zM129 505h2v1h-2zM126 506h3v1h-3zM123 507h3v1h-3zM121 508h2v1h-2zM118 509h3v1h-3zM116 510h2v1h-2zM114 511h2v1h-2zM112 512h2v1h-2zM110 513h2v1h-2zM108 514h2v1h-2zM106 515h2v1h-2zM105 516h1v1h-1zM103 517h2v1h-2zM101 518h2v1h-2zM100 519h1v1h-1zM98 520h2v1h-2zM97 521h1v1h-1zM95 522h2v1h-2zM93 523h2v1h-2zM91 524h2v1h-2zM87 525h4v1h-4zM84 526h3v1h-3zM82 527h2v1h-2zM80 528h2v1h-2zM78 529h2v1h-2zM76 530h2v1h-2zM75 531h1v1h-1zM74 532h1v1h-1zM73 533h1v1h-1zM71 534h2v1h-2zM70 535h1v1h-1zM69 536h1v1h-1zM68 537h1v1h-1zM67 538h1v1h-1zM66 539h1v1h-1zM65 540h1v1h-1zM63 541h2v1h-2zM62 542h1v1h-1zM61 543h1v1h-1zM60 544h1v1h-1zM59 545h1v1h-1zM58 546h1v1h-1zM57 547h1v1h-1zM55 550h1v1h-1zM54 551h1v1h-1zM53 552h1v1h-1zM52 553h1v1h-1zM49 558h1v1h-1zM47 561h1v1h-1zM44 566h1v1h-1zM43 567h1v1h-1zM41 570h1v1h-1zM40 571h1v1h-1zM39 572h1v1h-1zM37 575h1v1h-1zM36 576h1v1h-1zM35 577h1v1h-1zM33 578h2v1h-2zM32 579h1v1h-1zM31 580h1v1h-1zM29 581h2v1h-2zM28 582h1v1h-1z" fill="#ff0000"/>
<path d="M4 537h1v2h-1zM5 535h1v2h-1zM6 533h1v2h-1zM7 531h1v2h-1zM8 529h1v2h-1zM9 527h1v2h-1zM10 525h1v2h-1zM11 523h1v2h-1zM12 521h1v2h-1zM92 525h1v2h-1zM93 523h1v2h-1zM94 521h1v2h-1zM95 519h1v2h-1zM96 517h1v2h-1zM97 515h1v2h-1zM98 513h1v2h-1zM99 511h1v2h-1zM100 508h1v3h-1zM101 506h1v2h-1zM102 504h1v2h-1zM103 502h1v2h-1zM104 500h1v2h-1zM105 498h1v2h-1zM106 496h1v2h-1zM107 494h1v2h-1zM109 491h1v2h-1zM110 489h1v2h-1zM111 487h1v2h-1zM112 485h1v2h-1zM113 483h1v2h-1zM114 481h1v2h-1zM115 479h1v2h-1zM117 476h1v2h-1zM120 472h1v2h-1zM123 468h1v2h-1zM160 488h1v2h-1zM173 483h1v2h-1zM174 481h1v2h-1zM176 478h1v2h-1zM178 475h1v2h-1zM179 473h1v2h-1zM213 459h1v2h-1zM216 463h1v2h-1zM219 467h1v2h-1zM224 473h1v2h-1zM246 481h1v2h-1zM250 476h1v2h-1zM253 472h1v2h-1zM254 470h1v2h-1zM255 468h1v2h-1zM257 465h1v2h-1zM258 463h1v2h-1zM259 461h1v2h-1zM261 458h1v2h-1zM262 456h1v2h-1zM264 453h1v2h-1zM266 450h1v2h-1zM267 448h1v2h-1zM269 445h1v2h-1zM271 442h1v2h-1zM273 439h1v2h-1zM275 436h1v2h-1zM309 426h1v2h-1zM312 422h1v2h-1zM315 418h1v2h-1zM318 414h1v2h-1zM322 409h1v2h-1zM326 404h1v2h-1zM330 399h1v2h-1zM333 395h1v2h-1zM335 392h1v2h-1zM337 389h1v2h-1zM339 386h1v2h-1zM340 384h1v2h-1zM341 380h1v4h-1zM342 376h1v4h-1zM343 372h1v4h-1zM344 368h1v4h-1zM345 364h1v4h-1zM346 360h1v4h-1zM347 356h1v4h-1zM348 353h1v3h-1zM349 350h1v3h-1zM350 347h1v3h-1zM351 344h1v3h-1zM352 342h1v2h-1zM353 339h1v3h-1zM354 336h1v3h-1zM355 333h1v3h-1zM356 330h1v3h-1zM357 327h1v3h-1zM358 324h1v3h-1zM359 321h1v3h-1zM360 317h1v4h-1zM361 314h1v3h-1zM362 311h1v3h-1zM363 308h1v3h-1zM364 305h1v3h-1zM365 301h1v4h-1zM366 297h1v4h-1zM367 293h1v4h-1zM368 290h1v3h-1zM369 286h1v4h-1zM370 282h1v4h-1zM371 278h1v4h-1zM372 276h1v2h-1zM373 274h1v2h-1zM374 272h1v2h-1zM375 270h1v2h-1zM376 268h1v2h-1zM377 266h1v2h-1zM378 264h1v2h-1zM379 262h1v2h-1zM384 256h1v2h-1zM413 254h1v2h-1zM415 257h1v2h-1zM417 260h1v2h-1zM419 263h1v2h-1zM421 266h1v2h-1zM423 269h1v2h-1zM425 272h1v2h-1zM427 275h1v2h-1zM429 278h1v2h-1zM432 282h1v2h-1zM435 286h1v2h-1zM438 290h1v2h-1zM442 295h1v2h-1zM528 292h1v2h-1zM678 232h1v2h-1zM682 227h1v2h-1zM685 223h1v2h-1zM687 220h1v2h-1zM689 217h1v2h-1zM691 214h1v2h-1zM693 211h1v2h-1zM695 208h1v2h-1zM697 205h1v2h-1zM699 202h1v2h-1zM934 155h1v2h-1zM938 150h1v2h-1zM940 147h1v2h-1zM941 145h1v2h-1zM942 143h1v2h-1zM943 141h1v2h-1zM944 138h1v3h-1zM945 136h1v2h-1zM946 134h1v2h-1zM947 132h1v2h-1zM948 129h1v3h-1zM949 127h1v2h-1zM950 125h1v2h-1zM951 123h1v2h-1zM952 121h1v2h-1zM953 119h1v2h-1zM954 117h1v2h-1zM955 115h1v2h-1zM956 112h1v3h-1zM957 110h1v2h-1zM958 108h1v2h-1zM959 106h1v2h-1zM960 104h1v2h-1zM961 102h1v2h-1zM962 100h1v2h-1zM963 98h1v2h-1zM964 96h1v2h-1zM965 94h1v2h-1zM966 92h1v2h-1zM967 90h1v2h-1zM969 87h1v2h-1zM970 85h1v2h-1zM971 83h1v2h-1zM992 89h1v2h-1zM1000 98h1v2h-1zM1109 110h1v2h-1zM1110 112h1v2h-1zM1111 114h1v2h-1zM1112 116h1v2h-1zM1113 118h1v2h-1zM1114 120h1v2h-1zM1115 122h1v2h-1zM1116 124h1v2h-1zM1117 126h1v2h-1zM1118 128h1v2h-1zM1119 130h1v2h-1zM1120 132h1v2h-1zM1121 134h1v2h-1zM1122 136h1v2h-1zM1123 138h1v2h-1zM1124 140h1v2h-1zM1125 142h1v3h-1zM1126 145h1v3h-1zM1127 148h1v3h-1zM1128 151h1v3h-1zM1129 154h1v3h-1zM1130 157h1v3h-1zM1131 160h1v3h-1zM1132 163h1v3h-1zM1133 166h1v3h-1zM1134 169h1v3h-1zM1135 172h1v3h-1zM1136 175h1v4h-1zM1137 179h1v3h-1zM1138 182h1v3h-1zM1139 185h1v3h-1zM1140 188h1v2h-1zM1141 190h1v2h-1zM1142 192h1v2h-1zM1143 194h1v2h-1zM1144 196h1v2h-1zM1145 198h1v2h-1zM1146 200h1v2h-1zM1147 202h1v2h-1zM1149 205h1v2h-1zM1152 209h1v2h-1zM1155 213h1v2h-1zM1166 211h1v2h-1zM1170 206h1v2h-1zM1172 203h1v2h-1zM1173 201h1v2h-1zM1174 199h1v2h-1zM1175 197h1v2h-1zM1176 195h1v2h-1zM1177 193h1v2h-1zM1178 191h1v2h-1zM1179 189h1v2h-1zM1182 185h1v2h-1zM1186 180h1v2h-1zM980 78h1v1h-1zM978 79h2v1h-2zM981 79h1v1h-1zM976 80h2v1h-2zM982 80h1v1h-1zM974 81h2v1h-2zM983 81h2v1h-2zM972 82h2v1h-2zM985 82h1v1h-1zM986 83h1v1h-1zM987 84h1v1h-1zM988 85h1v1h-1zM989 86h1v1h-1zM990 87h1v1h-1zM991 88h1v1h-1zM968 89h1v1h-1zM993 91h1v1h-1zM994 92h1v1h-1zM995 93h1v1h-1zM996 94h1v1h-1zM997 95h1v1h-1zM998 96h1v1h-1zM999 97h1v1h-1zM1001 100h1v1h-1zM1002 101h1v1h-1zM1003 102h1v1h-1zM1091 102h10v1h-10zM1004 103h1v1h-1zM1089 103h2v1h-2zM1101 103h1v1h-1zM1005 104h1v1h-1zM1086 104h3v1h-3zM1102 104h1v1h-1zM1006 105h1v1h-1zM1081 105h5v1h-5zM1103 105h2v1h-2zM1007 106h1v1h-1zM1075 106h6v1h-6zM1105 106h1v1h-1zM1008 107h1v1h-1zM1073 107h2v1h-2zM1106 107h1v1h-1zM1009 108h1v1h-1zM1070 108h3v1h-3zM1107 108h1v1h-1zM1010 109h1v1h-1zM1067 109h3v1h-3zM1108 109h1v1h-1zM1011 110h1v1h-1zM1065 110h2v1h-2zM1012 111h1v1h-1zM1062 111h3v1h-3zM1013 112h1v1h-1zM1060 112h2v1h-2zM1014 113h1v1h-1zM1059 113h1v1h-1zM1015 114h2v1h-2zM1057 114h2v1h-2zM1017 115h1v1h-1zM1056 115h1v1h-1zM1018 116h1v1h-1zM1035 116h4v1h-4zM1055 116h1v1h-1zM1019 117h1v1h-1zM1031 117h4v1h-4zM1039 117h4v1h-4zM1053 117h2v1h-2zM1020 118h11v1h-11zM1043 118h10v1h-10zM889 146h6v1h-6zM884 147h5v1h-5zM895 147h4v1h-4zM882 148h2v1h-2zM899 148h3v1h-3zM1259 148h1v1h-1zM881 149h1v1h-1zM902 149h2v1h-2zM939 149h1v1h-1zM1257 149h2v1h-2zM879 150h2v1h-2zM904 150h2v1h-2zM1254 150h3v1h-3zM877 151h2v1h-2zM906 151h2v1h-2zM1252 151h2v1h-2zM876 152h1v1h-1zM908 152h1v1h-1zM937 152h1v1h-1zM1250 152h2v1h-2zM875 153h1v1h-1zM909 153h2v1h-2zM936 153h1v1h-1zM1248 153h2v1h-2zM873 154h2v1h-2zM911 154h2v1h-2zM935 154h1v1h-1zM1246 154h2v1h-2zM872 155h1v1h-1zM913 155h1v1h-1zM1244 155h2v1h-2zM817 156h4v1h-4zM871 156h1v1h-1zM914 156h2v1h-2zM1242 156h2v1h-2zM811 157h6v1h-6zM821 157h2v1h-2zM869 157h2v1h-2zM916 157h2v1h-2zM933 157h1v1h-1zM1241 157h1v1h-1zM809 158h2v1h-2zM823 158h2v1h-2zM868 158h1v1h-1zM918 158h2v1h-2zM931 158h2v1h-2zM1239 158h2v1h-2zM806 159h3v1h-3zM825 159h1v1h-1zM867 159h1v1h-1zM920 159h2v1h-2zM929 159h2v1h-2zM1237 159h2v1h-2zM803 160h3v1h-3zM826 160h2v1h-2zM865 160h2v1h-2zM922 160h2v1h-2zM926 160h3v1h-3zM1236 160h1v1h-1zM799 161h4v1h-4zM828 161h1v1h-1zM864 161h1v1h-1zM924 161h2v1h-2zM1235 161h1v1h-1zM796 162h3v1h-3zM829 162h2v1h-2zM863 162h1v1h-1zM1234 162h1v1h-1zM795 163h1v1h-1zM831 163h1v1h-1zM861 163h2v1h-2zM1204 163h5v1h-5zM1233 163h1v1h-1zM793 164h2v1h-2zM832 164h1v1h-1zM859 164h2v1h-2zM1203 164h1v1h-1zM1209 164h5v1h-5zM1231 164h2v1h-2zM792 165h1v1h-1zM833 165h2v1h-2zM855 165h4v1h-4zM1202 165h1v1h-1zM1214 165h2v1h-2zM1230 165h1v1h-1zM791 166h1v1h-1zM835 166h1v1h-1zM849 166h6v1h-6zM1201 166h1v1h-1zM1216 166h2v1h-2zM1229 166h1v1h-1zM789 167h2v1h-2zM836 167h13v1h-13zM1199 167h2v1h-2zM1218 167h2v1h-2zM1225 167h4v1h-4zM763 168h3v1h-3zM788 168h1v1h-1zM1198 168h1v1h-1zM1220 168h5v1h-5zM759 169h4v1h-4zM766 169h2v1h-2zM787 169h1v1h-1zM1197 169h1v1h-1zM756 170h3v1h-3zM768 170h2v1h-2zM786 170h1v1h-1zM1196 170h1v1h-1zM754 171h2v1h-2zM770 171h2v1h-2zM785 171h1v1h-1zM1195 171h1v1h-1zM753 172h1v1h-1zM772 172h2v1h-2zM783 172h2v1h-2zM1194 172h1v1h-1zM751 173h2v1h-2zM774 173h3v1h-3zM782 173h1v1h-1zM1193 173h1v1h-1zM749 174h2v1h-2zM777 174h2v1h-2zM781 174h1v1h-1zM1192 174h1v1h-1zM748 175h1v1h-1zM779 175h2v1h-2zM1191 175h1v1h-1zM746 176h2v1h-2zM1190 176h1v1h-1zM744 177h2v1h-2zM1189 177h1v1h-1zM742 178h2v1h-2zM1188 178h1v1h-1zM739 179h3v1h-3zM1187 179h1v1h-1zM737 180h2v1h-2zM734 181h3v1h-3zM729 182h5v1h-5zM1185 182h1v1h-1zM723 183h6v1h-6zM1184 183h1v1h-1zM719 184h4v1h-4zM1183 184h1v1h-1zM716 185h3v1h-3zM715 186h1v1h-1zM714 187h1v1h-1zM1181 187h1v1h-1zM713 188h1v1h-1zM1180 188h1v1h-1zM712 189h1v1h-1zM711 190h1v1h-1zM710 191h1v1h-1zM709 192h1v1h-1zM708 193h1v1h-1zM707 194h1v1h-1zM706 195h1v1h-1zM705 196h1v1h-1zM704 197h1v1h-1zM703 198h1v1h-1zM702 199h1v1h-1zM701 200h1v1h-1zM700 201h1v1h-1zM698 204h1v1h-1zM1148 204h1v1h-1zM1171 205h1v1h-1zM696 207h1v1h-1zM1150 207h1v1h-1zM1151 208h1v1h-1zM1169 208h1v1h-1zM1168 209h1v1h-1zM694 210h1v1h-1zM1167 210h1v1h-1zM1153 211h1v1h-1zM1154 212h1v1h-1zM692 213h1v1h-1zM1165 213h1v1h-1zM1161 214h4v1h-4zM1156 215h5v1h-5zM690 216h1v1h-1zM688 219h1v1h-1zM686 222h1v1h-1zM684 225h1v1h-1zM683 226h1v1h-1zM681 229h1v1h-1zM680 230h1v1h-1zM679 231h1v1h-1zM677 234h1v1h-1zM676 235h1v1h-1zM674 236h2v1h-2zM673 237h1v1h-1zM671 238h2v1h-2zM669 239h2v1h-2zM665 240h4v1h-4zM660 241h5v1h-5zM658 242h2v1h-2zM657 243h1v1h-1zM655 244h2v1h-2zM404 245h1v1h-1zM653 245h2v1h-2zM403 246h1v1h-1zM405 246h1v1h-1zM652 246h1v1h-1zM401 247h2v1h-2zM406 247h1v1h-1zM650 247h2v1h-2zM400 248h1v1h-1zM407 248h1v1h-1zM648 248h2v1h-2zM399 249h1v1h-1zM408 249h1v1h-1zM646 249h2v1h-2zM397 250h2v1h-2zM409 250h1v1h-1zM644 250h2v1h-2zM393 251h4v1h-4zM410 251h1v1h-1zM611 251h3v1h-3zM642 251h2v1h-2zM388 252h5v1h-5zM411 252h1v1h-1zM609 252h2v1h-2zM614 252h2v1h-2zM640 252h2v1h-2zM387 253h1v1h-1zM412 253h1v1h-1zM606 253h3v1h-3zM616 253h2v1h-2zM638 253h2v1h-2zM386 254h1v1h-1zM603 254h3v1h-3zM618 254h2v1h-2zM625 254h13v1h-13zM385 255h1v1h-1zM599 255h4v1h-4zM620 255h5v1h-5zM414 256h1v1h-1zM596 256h3v1h-3zM594 257h2v1h-2zM383 258h1v1h-1zM592 258h2v1h-2zM382 259h1v1h-1zM416 259h1v1h-1zM590 259h2v1h-2zM381 260h1v1h-1zM588 260h2v1h-2zM380 261h1v1h-1zM586 261h2v1h-2zM418 262h1v1h-1zM585 262h1v1h-1zM583 263h2v1h-2zM581 264h2v1h-2zM420 265h1v1h-1zM580 265h1v1h-1zM579 266h1v1h-1zM577 267h2v1h-2zM422 268h1v1h-1zM576 268h1v1h-1zM575 269h1v1h-1zM573 270h2v1h-2zM424 271h1v1h-1zM572 271h1v1h-1zM571 272h1v1h-1zM570 273h1v1h-1zM426 274h1v1h-1zM569 274h1v1h-1zM568 275h1v1h-1zM567 276h1v1h-1zM428 277h1v1h-1zM566 277h1v1h-1zM565 278h1v1h-1zM564 279h1v1h-1zM430 280h1v1h-1zM563 280h1v1h-1zM431 281h1v1h-1zM561 281h2v1h-2zM560 282h1v1h-1zM559 283h1v1h-1zM433 284h1v1h-1zM557 284h2v1h-2zM434 285h1v1h-1zM513 285h5v1h-5zM556 285h1v1h-1zM505 286h8v1h-8zM518 286h3v1h-3zM555 286h1v1h-1zM499 287h6v1h-6zM521 287h2v1h-2zM554 287h1v1h-1zM436 288h1v1h-1zM497 288h2v1h-2zM523 288h2v1h-2zM553 288h1v1h-1zM437 289h1v1h-1zM494 289h3v1h-3zM525 289h1v1h-1zM551 289h2v1h-2zM492 290h2v1h-2zM526 290h1v1h-1zM550 290h1v1h-1zM490 291h2v1h-2zM527 291h1v1h-1zM549 291h1v1h-1zM439 292h1v1h-1zM488 292h2v1h-2zM548 292h1v1h-1zM440 293h1v1h-1zM486 293h2v1h-2zM546 293h2v1h-2zM441 294h1v1h-1zM483 294h3v1h-3zM529 294h1v1h-1zM545 294h1v1h-1zM479 295h4v1h-4zM530 295h1v1h-1zM543 295h2v1h-2zM465 296h14v1h-14zM531 296h1v1h-1zM541 296h2v1h-2zM443 297h1v1h-1zM449 297h16v1h-16zM532 297h9v1h-9zM444 298h5v1h-5zM338 388h1v1h-1zM336 391h1v1h-1zM334 394h1v1h-1zM332 397h1v1h-1zM331 398h1v1h-1zM329 401h1v1h-1zM328 402h1v1h-1zM327 403h1v1h-1zM325 406h1v1h-1zM324 407h1v1h-1zM323 408h1v1h-1zM321 411h1v1h-1zM320 412h1v1h-1zM319 413h1v1h-1zM317 416h1v1h-1zM316 417h1v1h-1zM314 420h1v1h-1zM313 421h1v1h-1zM311 424h1v1h-1zM310 425h1v1h-1zM307 428h2v1h-2zM305 429h2v1h-2zM302 430h3v1h-3zM300 431h2v1h-2zM298 432h2v1h-2zM283 433h4v1h-4zM296 433h2v1h-2zM279 434h4v1h-4zM287 434h4v1h-4zM294 434h2v1h-2zM276 435h3v1h-3zM291 435h3v1h-3zM274 438h1v1h-1zM272 441h1v1h-1zM270 444h1v1h-1zM268 447h1v1h-1zM265 452h1v1h-1zM204 455h2v1h-2zM263 455h1v1h-1zM203 456h1v1h-1zM206 456h3v1h-3zM202 457h1v1h-1zM209 457h2v1h-2zM201 458h1v1h-1zM211 458h2v1h-2zM200 459h1v1h-1zM199 460h1v1h-1zM260 460h1v1h-1zM198 461h1v1h-1zM214 461h1v1h-1zM197 462h1v1h-1zM215 462h1v1h-1zM193 463h4v1h-4zM131 464h2v1h-2zM188 464h5v1h-5zM129 465h2v1h-2zM133 465h2v1h-2zM187 465h1v1h-1zM217 465h1v1h-1zM126 466h3v1h-3zM135 466h1v1h-1zM186 466h1v1h-1zM218 466h1v1h-1zM124 467h2v1h-2zM136 467h1v1h-1zM185 467h1v1h-1zM256 467h1v1h-1zM137 468h2v1h-2zM184 468h1v1h-1zM139 469h1v1h-1zM183 469h1v1h-1zM220 469h1v1h-1zM122 470h1v1h-1zM140 470h1v1h-1zM182 470h1v1h-1zM221 470h1v1h-1zM121 471h1v1h-1zM141 471h1v1h-1zM181 471h1v1h-1zM222 471h1v1h-1zM142 472h1v1h-1zM180 472h1v1h-1zM223 472h1v1h-1zM143 473h2v1h-2zM119 474h1v1h-1zM145 474h1v1h-1zM252 474h1v1h-1zM118 475h1v1h-1zM146 475h1v1h-1zM225 475h1v1h-1zM251 475h1v1h-1zM147 476h1v1h-1zM226 476h1v1h-1zM148 477h1v1h-1zM177 477h1v1h-1zM227 477h1v1h-1zM116 478h1v1h-1zM149 478h1v1h-1zM228 478h1v1h-1zM249 478h1v1h-1zM150 479h1v1h-1zM229 479h2v1h-2zM248 479h1v1h-1zM151 480h2v1h-2zM175 480h1v1h-1zM231 480h1v1h-1zM247 480h1v1h-1zM153 481h1v1h-1zM232 481h1v1h-1zM154 482h1v1h-1zM233 482h2v1h-2zM155 483h1v1h-1zM235 483h1v1h-1zM245 483h1v1h-1zM156 484h1v1h-1zM236 484h9v1h-9zM157 485h1v1h-1zM172 485h1v1h-1zM158 486h1v1h-1zM171 486h1v1h-1zM159 487h1v1h-1zM170 487h1v1h-1zM169 488h1v1h-1zM168 489h1v1h-1zM161 490h1v1h-1zM167 490h1v1h-1zM162 491h1v1h-1zM166 491h1v1h-1zM163 492h1v1h-1zM165 492h1v1h-1zM108 493h1v1h-1zM164 493h1v1h-1zM17 520h5v1h-5zM13 521h4v1h-4zM22 521h3v1h-3zM25 522h2v1h-2zM27 523h14v1h-14zM41 524h5v1h-5zM46 525h2v1h-2zM48 526h2v1h-2zM83 526h9v1h-9zM50 527h2v1h-2zM79 527h4v1h-4zM52 528h2v1h-2zM75 528h4v1h-4zM54 529h2v1h-2zM73 529h2v1h-2zM56 530h2v1h-2zM70 530h3v1h-3zM58 531h2v1h-2zM65 531h5v1h-5zM60 532h5v1h-5z" fill="#ffa500"/>
</g>
<g shape-rendering="crispEdges">
<rect x="4" y="57" width="1592" height="2" fill="#ff0000"/>
<rect x="3" y="55" width="6" height="6" fill="#ff0000"/>
<rect x="5" y="57" width="2" height="2" fill="#fff"/>
<rect x="1590" y="55" width="6" height="6" fill="#ff0000"/>
<rect x="1592" y="57" width="2" height="2" fill="#fff"/>
<rect x="4" y="101" width="1592" height="2" fill="#ff0000"/>
<rect x="3" y="99" width="6" height="6" fill="#ff0000"/>
<rect x="5" y="101" width="2" height="2" fill="#fff"/>
<rect x="1590" y="99" width="6" height="6" fill="#ff0000"/>
<rect x="1592" y="101" width="2" height="2" fill="#fff"/>
<rect x="4" y="146" width="1592" height="2" fill="#00ff00"/>
<rect x="3" y="144" width="6" height="6" fill="#00ff00"/>
<rect x="5" y="146" width="2" height="2" fill="#fff"/>
<rect x="1590" y="144" width="6" height="6" fill="#00ff00"/>
<rect x="1592" y="146" width="2" height="2" fill="#fff"/>
<rect x="4" y="190" width="1592" height="2" fill="#0000ff"/>
<rect x="3" y="188" width="6" height="6" fill="#0000ff"/>
<rect x="5" y="190" width="2" height="2" fill="#fff"/>
<rect x="1590" y="188" width="6" height="6" fill="#0000ff"/>
<rect x="1592" y="190" width="2" height="2" fill="#fff"/>
<rect x="4" y="236" width="1592" height="2" fill="#ff0000"/>
<rect x="3" y="234" width="6" height="6" fill="#ff0000"/>
<rect x="5" y="236" width="2" height="2" fill="#fff"/>
<rect x="1590" y="234" width="6" height="6" fill="#ff0000"/>
<rect x="1592" y="236" width="2" height="2" fill="#fff"/>
<rect x="1597" y="51" width="2" height="1" fill="#000"/>
<rect x="1597" y="84" width="2" height="1" fill="#000"/>
<rect x="1597" y="117" width="2" height="1" fill="#000"/>
<rect x="1597" y="150" width="2" height="1" fill="#000"/>
<rect x="1597" y="183" width="2" height="1" fill="#000"/>
<rect x="1597" y="216" width="2" height="1" fill="#000"/>
<rect x="1597" y="249" width="2" height="1" fill="#000"/>
<rect x="1597" y="282" width="2" height="1" fill="#000"/>
<rect x="1597" y="315" width="2" height="1" fill="#000"/>
<rect x="1597" y="348" width="2" height="1" fill="#000"/>
<rect x="1597" y="381" width="2" height="1" fill="#000"/>
<rect x="1597" y="414" width="2" height="1" fill="#000"/>
<rect x="1597" y="447" width="2" height="1" fill="#000"/>
<rect x="1597" y="480" width="2" height="1" fill="#000"/>
<rect x="1597" y="513" width="2" height="1" fill="#000"/>
<rect x="1597" y="546" width="2" height="1" fill="#000"/>
<rect x="1597" y="579" width="2" height="1" fill="#000"/>
</g>
<text x="1602" y="55" font-size="10.2" fill="#000" textLength="33.2" lengthAdjust="spacingAndGlyphs">0.74170</text>
<text x="1602" y="88" font-size="10.2" fill="#000" textLength="33.2" lengthAdjust="spacingAndGlyphs">0.73430</text>
<text x="1602" y="121" font-size="10.2" fill="#000" textLength="33.2" lengthAdjust="spacingAndGlyphs">0.72690</text>
<text x="1602" y="187" font-size="10.2" fill="#000" textLength="33.2" lengthAdjust="spacingAndGlyphs">0.71210</text>
<text x="1602" y="220" font-size="10.2" fill="#000" textLength="33.2" lengthAdjust="spacingAndGlyphs">0.70470</text>
<text x="1602" y="253" font-size="10.2" fill="#000" textLength="33.2" lengthAdjust="spacingAndGlyphs">0.69710</text>
<text x="1602" y="286" font-size="10.2" fill="#000" textLength="33.2" lengthAdjust="spacingAndGlyphs">0.68970</text>
<text x="1602" y="319" font-size="10.2" fill="#000" textLength="33.2" lengthAdjust="spacingAndGlyphs">0.68230</text>
<text x="1602" y="352" font-size="10.2" fill="#000" textLength="33.2" lengthAdjust="spacingAndGlyphs">0.67490</text>
<text x="1602" y="385" font-size="10.2" fill="#000" textLength="33.2" lengthAdjust="spacingAndGlyphs">0.66750</text>
<text x="1602" y="418" font-size="10.2" fill="#000" textLength="33.2" lengthAdjust="spacingAndGlyphs">0.66010</text>
<text x="1602" y="451" font-size="10.2" fill="#000" textLength="33.2" lengthAdjust="spacingAndGlyphs">0.65250</text>
<text x="1602" y="484" font-size="10.2" fill="#000" textLength="33.2" lengthAdjust="spacingAndGlyphs">0.64510</text>
<text x="1602" y="517" font-size="10.2" fill="#000" textLength="33.2" lengthAdjust="spacingAndGlyphs">0.63770</text>
<text x="1602" y="550" font-size="10.2" fill="#000" textLength="33.2" lengthAdjust="spacingAndGlyphs">0.63030</text>
<text x="1602" y="583" font-size="10.2" fill="#000" textLength="33.2" lengthAdjust="spacingAndGlyphs">0.62290</text>
<g shape-rendering="crispEdges">
<rect x="1598" y="52" width="41" height="11" fill="#ff0000"/>
<rect x="1598" y="96" width="41" height="11" fill="#ff0000"/>
<rect x="1598" y="141" width="41" height="11" fill="#00ff00"/>
<rect x="1598" y="185" width="41" height="11" fill="#0000ff"/>
<rect x="1598" y="231" width="41" height="11" fill="#ff0000"/>
<rect x="1598" y="152" width="41" height="11" fill="#000"/>
<rect x="1596" y="157" width="1" height="1" fill="#c0c0c0"/>
</g>
<text x="1602" y="61" font-size="10.2" fill="#fff" textLength="33.2" lengthAdjust="spacingAndGlyphs">0.74019</text>
<text x="1602" y="105" font-size="10.2" fill="#fff" textLength="33.2" lengthAdjust="spacingAndGlyphs">0.73023</text>
<text x="1602" y="150" font-size="10.2" fill="#fff" textLength="33.2" lengthAdjust="spacingAndGlyphs">0.72026</text>
<text x="1602" y="194" font-size="10.2" fill="#fff" textLength="33.2" lengthAdjust="spacingAndGlyphs">0.71029</text>
<text x="1602" y="240" font-size="10.2" fill="#fff" textLength="33.2" lengthAdjust="spacingAndGlyphs">0.69995</text>
<text x="1602" y="161" font-size="10.2" fill="#fff" textLength="33.2" lengthAdjust="spacingAndGlyphs">0.71782</text>
<path d="M7 33 H14 L10.5 37Z" fill="#000"/>
<text x="19.7" y="38" font-size="10.2" fill="#000" textLength="64.9" lengthAdjust="spacingAndGlyphs">AUDUSD,Daily</text>
<text x="91.6" y="38" font-size="10.2" fill="#000" textLength="31.6" lengthAdjust="spacingAndGlyphs">0.72060</text>
<text x="127.2" y="38" font-size="10.2" fill="#000" textLength="31.8" lengthAdjust="spacingAndGlyphs">0.72168</text>
<text x="163" y="38" font-size="10.2" fill="#000" textLength="31.9" lengthAdjust="spacingAndGlyphs">0.71703</text>
<text x="199.3" y="38" font-size="10.2" fill="#000" textLength="32.7" lengthAdjust="spacingAndGlyphs">0.71782</text>
<g shape-rendering="crispEdges">
<rect x="1597" y="586" width="1" height="1" fill="#000"/>
<rect x="1597" y="615" width="1" height="1" fill="#000"/>
<rect x="1597" y="655" width="1" height="1" fill="#000"/>
<rect x="1597" y="685" width="1" height="1" fill="#000"/>
<rect x="1597" y="690" width="1" height="1" fill="#000"/>
<rect x="1597" y="760" width="1" height="1" fill="#000"/>
<rect x="1597" y="788" width="1" height="1" fill="#000"/>
<line x1="4" y1="615.5" x2="1596" y2="615.5" stroke="#c0c0c0" stroke-width="1" stroke-dasharray="3 3" stroke-dashoffset="5"/>
<line x1="4" y1="655.5" x2="1596" y2="655.5" stroke="#c0c0c0" stroke-width="1" stroke-dasharray="3 3" stroke-dashoffset="5"/>
<clipPath id="cr"><rect x="4" y="585" width="1592" height="101"/></clipPath><g clip-path="url(#cr)">
<path d="M56 629h1v2h-1zM126 622h1v2h-1zM130 627h1v2h-1zM405 612h1v2h-1zM406 614h1v2h-1zM408 617h1v2h-1zM410 620h1v2h-1zM411 622h1v2h-1zM496 625h1v2h-1zM677 619h1v2h-1zM680 615h1v2h-1zM683 611h1v2h-1zM704 614h1v2h-1zM797 616h1v2h-1zM800 620h1v2h-1zM803 624h1v2h-1zM885 619h1v2h-1zM887 622h1v2h-1zM889 625h1v2h-1zM891 628h1v2h-1zM974 614h1v2h-1zM978 619h1v2h-1zM1101 631h1v2h-1zM1104 635h1v2h-1zM1107 639h1v2h-1zM1232 633h1v2h-1zM691 608h4v1h-4zM355 609h6v1h-6zM369 609h8v1h-8zM385 609h5v1h-5zM687 609h4v1h-4zM695 609h4v1h-4zM961 609h5v1h-5zM353 610h2v1h-2zM361 610h8v1h-8zM377 610h8v1h-8zM390 610h2v1h-2zM684 610h3v1h-3zM699 610h2v1h-2zM953 610h8v1h-8zM966 610h3v1h-3zM350 611h3v1h-3zM392 611h2v1h-2zM403 611h2v1h-2zM701 611h1v1h-1zM948 611h5v1h-5zM969 611h2v1h-2zM348 612h2v1h-2zM394 612h2v1h-2zM399 612h4v1h-4zM702 612h1v1h-1zM739 612h2v1h-2zM947 612h1v1h-1zM971 612h2v1h-2zM346 613h2v1h-2zM396 613h3v1h-3zM682 613h1v1h-1zM703 613h1v1h-1zM735 613h4v1h-4zM741 613h1v1h-1zM946 613h1v1h-1zM973 613h1v1h-1zM344 614h2v1h-2zM681 614h1v1h-1zM731 614h4v1h-4zM742 614h1v1h-1zM945 614h1v1h-1zM342 615h2v1h-2zM727 615h4v1h-4zM743 615h2v1h-2zM793 615h4v1h-4zM944 615h1v1h-1zM340 616h2v1h-2zM407 616h1v1h-1zM705 616h1v1h-1zM723 616h4v1h-4zM745 616h1v1h-1zM788 616h5v1h-5zM943 616h1v1h-1zM975 616h1v1h-1zM339 617h1v1h-1zM679 617h1v1h-1zM706 617h1v1h-1zM721 617h2v1h-2zM746 617h1v1h-1zM755 617h4v1h-4zM787 617h1v1h-1zM942 617h1v1h-1zM976 617h1v1h-1zM338 618h1v1h-1zM678 618h1v1h-1zM707 618h1v1h-1zM718 618h3v1h-3zM747 618h1v1h-1zM751 618h4v1h-4zM759 618h4v1h-4zM785 618h2v1h-2zM798 618h1v1h-1zM875 618h10v1h-10zM941 618h1v1h-1zM977 618h1v1h-1zM115 619h6v1h-6zM337 619h1v1h-1zM409 619h1v1h-1zM649 619h5v1h-5zM708 619h10v1h-10zM748 619h3v1h-3zM763 619h2v1h-2zM784 619h1v1h-1zM799 619h1v1h-1zM873 619h2v1h-2zM940 619h1v1h-1zM111 620h4v1h-4zM121 620h4v1h-4zM335 620h2v1h-2zM644 620h5v1h-5zM654 620h2v1h-2zM765 620h1v1h-1zM783 620h1v1h-1zM870 620h3v1h-3zM938 620h2v1h-2zM11 621h2v1h-2zM107 621h4v1h-4zM125 621h1v1h-1zM259 621h3v1h-3zM300 621h1v1h-1zM334 621h1v1h-1zM492 621h1v1h-1zM579 621h14v1h-14zM628 621h2v1h-2zM642 621h2v1h-2zM656 621h2v1h-2zM673 621h4v1h-4zM766 621h1v1h-1zM781 621h2v1h-2zM868 621h2v1h-2zM886 621h1v1h-1zM937 621h1v1h-1zM979 621h1v1h-1zM7 622h4v1h-4zM13 622h2v1h-2zM103 622h4v1h-4zM255 622h4v1h-4zM262 622h2v1h-2zM299 622h1v1h-1zM301 622h2v1h-2zM316 622h3v1h-3zM333 622h1v1h-1zM490 622h2v1h-2zM493 622h1v1h-1zM577 622h2v1h-2zM593 622h6v1h-6zM626 622h2v1h-2zM630 622h3v1h-3zM640 622h2v1h-2zM658 622h2v1h-2zM665 622h8v1h-8zM767 622h2v1h-2zM780 622h1v1h-1zM801 622h1v1h-1zM866 622h2v1h-2zM935 622h2v1h-2zM980 622h1v1h-1zM4 623h3v1h-3zM15 623h1v1h-1zM100 623h3v1h-3zM179 623h6v1h-6zM252 623h3v1h-3zM264 623h2v1h-2zM298 623h1v1h-1zM303 623h1v1h-1zM314 623h2v1h-2zM319 623h4v1h-4zM329 623h4v1h-4zM488 623h2v1h-2zM494 623h1v1h-1zM574 623h3v1h-3zM599 623h4v1h-4zM625 623h1v1h-1zM633 623h2v1h-2zM638 623h2v1h-2zM660 623h5v1h-5zM769 623h1v1h-1zM778 623h2v1h-2zM802 623h1v1h-1zM864 623h2v1h-2zM933 623h2v1h-2zM981 623h1v1h-1zM16 624h1v1h-1zM98 624h2v1h-2zM127 624h1v1h-1zM175 624h4v1h-4zM185 624h4v1h-4zM250 624h2v1h-2zM266 624h2v1h-2zM297 624h1v1h-1zM304 624h1v1h-1zM313 624h1v1h-1zM323 624h6v1h-6zM412 624h2v1h-2zM449 624h4v1h-4zM486 624h2v1h-2zM495 624h1v1h-1zM563 624h11v1h-11zM603 624h12v1h-12zM623 624h2v1h-2zM635 624h3v1h-3zM770 624h1v1h-1zM776 624h2v1h-2zM862 624h2v1h-2zM888 624h1v1h-1zM932 624h1v1h-1zM982 624h1v1h-1zM1076 624h1v1h-1zM17 625h2v1h-2zM51 625h2v1h-2zM97 625h1v1h-1zM128 625h1v1h-1zM172 625h3v1h-3zM189 625h2v1h-2zM248 625h2v1h-2zM268 625h2v1h-2zM295 625h2v1h-2zM305 625h2v1h-2zM311 625h2v1h-2zM414 625h3v1h-3zM443 625h6v1h-6zM453 625h2v1h-2zM484 625h2v1h-2zM559 625h4v1h-4zM615 625h4v1h-4zM621 625h2v1h-2zM771 625h1v1h-1zM774 625h2v1h-2zM857 625h5v1h-5zM931 625h1v1h-1zM983 625h1v1h-1zM1074 625h2v1h-2zM1077 625h1v1h-1zM19 626h1v1h-1zM47 626h4v1h-4zM53 626h1v1h-1zM95 626h2v1h-2zM129 626h1v1h-1zM171 626h1v1h-1zM191 626h1v1h-1zM246 626h2v1h-2zM270 626h2v1h-2zM294 626h1v1h-1zM307 626h1v1h-1zM309 626h2v1h-2zM417 626h2v1h-2zM439 626h4v1h-4zM455 626h1v1h-1zM482 626h2v1h-2zM547 626h12v1h-12zM619 626h2v1h-2zM772 626h2v1h-2zM804 626h3v1h-3zM819 626h4v1h-4zM835 626h6v1h-6zM849 626h8v1h-8zM929 626h2v1h-2zM984 626h1v1h-1zM1073 626h1v1h-1zM1078 626h1v1h-1zM20 627h2v1h-2zM35 627h12v1h-12zM54 627h1v1h-1zM75 627h6v1h-6zM93 627h2v1h-2zM156 627h2v1h-2zM169 627h2v1h-2zM192 627h1v1h-1zM203 627h3v1h-3zM244 627h2v1h-2zM272 627h2v1h-2zM293 627h1v1h-1zM308 627h1v1h-1zM419 627h6v1h-6zM433 627h6v1h-6zM456 627h1v1h-1zM481 627h1v1h-1zM497 627h1v1h-1zM545 627h2v1h-2zM807 627h4v1h-4zM815 627h4v1h-4zM823 627h4v1h-4zM831 627h4v1h-4zM841 627h8v1h-8zM890 627h1v1h-1zM928 627h1v1h-1zM985 627h1v1h-1zM1003 627h6v1h-6zM1071 627h2v1h-2zM1079 627h1v1h-1zM22 628h3v1h-3zM33 628h2v1h-2zM55 628h1v1h-1zM73 628h2v1h-2zM81 628h12v1h-12zM154 628h2v1h-2zM158 628h2v1h-2zM168 628h1v1h-1zM193 628h2v1h-2zM201 628h2v1h-2zM206 628h2v1h-2zM243 628h1v1h-1zM274 628h2v1h-2zM289 628h4v1h-4zM425 628h8v1h-8zM457 628h2v1h-2zM479 628h2v1h-2zM498 628h1v1h-1zM542 628h3v1h-3zM811 628h4v1h-4zM827 628h4v1h-4zM927 628h1v1h-1zM986 628h1v1h-1zM1001 628h2v1h-2zM1009 628h4v1h-4zM1059 628h6v1h-6zM1069 628h2v1h-2zM1080 628h1v1h-1zM25 629h2v1h-2zM30 629h3v1h-3zM70 629h3v1h-3zM131 629h1v1h-1zM152 629h2v1h-2zM160 629h2v1h-2zM167 629h1v1h-1zM195 629h1v1h-1zM198 629h3v1h-3zM208 629h2v1h-2zM242 629h1v1h-1zM276 629h13v1h-13zM459 629h1v1h-1zM465 629h8v1h-8zM477 629h2v1h-2zM499 629h1v1h-1zM540 629h2v1h-2zM925 629h2v1h-2zM987 629h1v1h-1zM998 629h3v1h-3zM1013 629h1v1h-1zM1057 629h2v1h-2zM1065 629h4v1h-4zM1081 629h1v1h-1zM1091 629h6v1h-6zM1236 629h10v1h-10zM27 630h3v1h-3zM68 630h2v1h-2zM132 630h5v1h-5zM150 630h2v1h-2zM162 630h2v1h-2zM165 630h2v1h-2zM196 630h2v1h-2zM210 630h2v1h-2zM241 630h1v1h-1zM460 630h5v1h-5zM473 630h4v1h-4zM500 630h5v1h-5zM538 630h2v1h-2zM892 630h2v1h-2zM921 630h4v1h-4zM988 630h10v1h-10zM1014 630h1v1h-1zM1033 630h8v1h-8zM1054 630h3v1h-3zM1082 630h1v1h-1zM1089 630h2v1h-2zM1097 630h4v1h-4zM1235 630h1v1h-1zM1246 630h2v1h-2zM57 631h1v1h-1zM66 631h2v1h-2zM137 631h13v1h-13zM164 631h1v1h-1zM212 631h2v1h-2zM240 631h1v1h-1zM505 631h8v1h-8zM521 631h6v1h-6zM536 631h2v1h-2zM894 631h3v1h-3zM915 631h6v1h-6zM1015 631h2v1h-2zM1028 631h5v1h-5zM1041 631h13v1h-13zM1083 631h1v1h-1zM1086 631h3v1h-3zM1234 631h1v1h-1zM1248 631h2v1h-2zM58 632h1v1h-1zM64 632h2v1h-2zM214 632h2v1h-2zM239 632h1v1h-1zM513 632h8v1h-8zM527 632h4v1h-4zM534 632h2v1h-2zM897 632h2v1h-2zM911 632h4v1h-4zM1017 632h1v1h-1zM1026 632h2v1h-2zM1084 632h2v1h-2zM1233 632h1v1h-1zM1250 632h2v1h-2zM59 633h1v1h-1zM62 633h2v1h-2zM216 633h2v1h-2zM238 633h1v1h-1zM531 633h3v1h-3zM899 633h12v1h-12zM1018 633h1v1h-1zM1024 633h2v1h-2zM1102 633h1v1h-1zM1252 633h2v1h-2zM60 634h2v1h-2zM218 634h2v1h-2zM237 634h1v1h-1zM1019 634h1v1h-1zM1022 634h2v1h-2zM1103 634h1v1h-1zM1254 634h3v1h-3zM220 635h5v1h-5zM233 635h4v1h-4zM1020 635h2v1h-2zM1179 635h3v1h-3zM1231 635h1v1h-1zM1257 635h2v1h-2zM225 636h8v1h-8zM1175 636h4v1h-4zM1182 636h2v1h-2zM1201 636h6v1h-6zM1230 636h1v1h-1zM1259 636h1v1h-1zM1105 637h1v1h-1zM1172 637h3v1h-3zM1184 637h2v1h-2zM1195 637h6v1h-6zM1207 637h4v1h-4zM1229 637h1v1h-1zM1106 638h1v1h-1zM1171 638h1v1h-1zM1186 638h2v1h-2zM1191 638h4v1h-4zM1211 638h4v1h-4zM1227 638h2v1h-2zM1169 639h2v1h-2zM1188 639h3v1h-3zM1215 639h4v1h-4zM1223 639h4v1h-4zM1168 640h1v1h-1zM1219 640h4v1h-4zM1108 641h2v1h-2zM1167 641h1v1h-1zM1110 642h2v1h-2zM1165 642h2v1h-2zM1112 643h2v1h-2zM1164 643h1v1h-1zM1114 644h2v1h-2zM1163 644h1v1h-1zM1116 645h1v1h-1zM1161 645h2v1h-2zM1117 646h1v1h-1zM1160 646h1v1h-1zM1118 647h1v1h-1zM1159 647h1v1h-1zM1119 648h1v1h-1zM1157 648h2v1h-2zM1120 649h1v1h-1zM1156 649h1v1h-1zM1121 650h1v1h-1zM1155 650h1v1h-1zM1122 651h1v1h-1zM1154 651h1v1h-1zM1123 652h1v1h-1zM1153 652h1v1h-1zM1124 653h2v1h-2zM1151 653h2v1h-2zM1126 654h3v1h-3zM1150 654h1v1h-1zM1129 655h2v1h-2zM1149 655h1v1h-1zM1131 656h4v1h-4zM1147 656h2v1h-2zM1135 657h4v1h-4zM1143 657h4v1h-4zM1139 658h4v1h-4z" fill="#1e90ff"/>
</g>
</g>
<text x="8" y="597" font-size="10.2" fill="#000" textLength="68" lengthAdjust="spacingAndGlyphs">RSI(14) 49.4324</text>
<text x="1600.3" y="595.2" font-size="10.2" fill="#000" textLength="15.5" lengthAdjust="spacingAndGlyphs">100</text>
<text x="1600.3" y="619.3" font-size="10.2" fill="#000" textLength="10.3" lengthAdjust="spacingAndGlyphs">70</text>
<text x="1600.3" y="659.0" font-size="10.2" fill="#000" textLength="10.3" lengthAdjust="spacingAndGlyphs">30</text>
<text x="1600.3" y="683.3" font-size="10.2" fill="#000" textLength="5.2" lengthAdjust="spacingAndGlyphs">0</text>
<g shape-rendering="crispEdges">
<rect x="4" y="752" width="1" height="9" fill="#c0c0c0"/>
<rect x="12" y="745" width="1" height="16" fill="#c0c0c0"/>
<rect x="20" y="743" width="1" height="18" fill="#c0c0c0"/>
<rect x="28" y="743" width="1" height="18" fill="#c0c0c0"/>
<rect x="36" y="741" width="1" height="20" fill="#c0c0c0"/>
<rect x="44" y="740" width="1" height="21" fill="#c0c0c0"/>
<rect x="52" y="738" width="1" height="23" fill="#c0c0c0"/>
<rect x="60" y="741" width="1" height="20" fill="#c0c0c0"/>
<rect x="68" y="742" width="1" height="19" fill="#c0c0c0"/>
<rect x="76" y="740" width="1" height="21" fill="#c0c0c0"/>
<rect x="84" y="740" width="1" height="21" fill="#c0c0c0"/>
<rect x="92" y="739" width="1" height="22" fill="#c0c0c0"/>
<rect x="100" y="736" width="1" height="25" fill="#c0c0c0"/>
<rect x="108" y="733" width="1" height="28" fill="#c0c0c0"/>
<rect x="116" y="729" width="1" height="32" fill="#c0c0c0"/>
<rect x="124" y="726" width="1" height="35" fill="#c0c0c0"/>
<rect x="132" y="729" width="1" height="32" fill="#c0c0c0"/>
<rect x="140" y="732" width="1" height="29" fill="#c0c0c0"/>
<rect x="148" y="734" width="1" height="27" fill="#c0c0c0"/>
<rect x="156" y="735" width="1" height="26" fill="#c0c0c0"/>
<rect x="164" y="737" width="1" height="24" fill="#c0c0c0"/>
<rect x="172" y="736" width="1" height="25" fill="#c0c0c0"/>
<rect x="180" y="734" width="1" height="27" fill="#c0c0c0"/>
<rect x="188" y="732" width="1" height="29" fill="#c0c0c0"/>
<rect x="196" y="735" width="1" height="26" fill="#c0c0c0"/>
<rect x="204" y="735" width="1" height="26" fill="#c0c0c0"/>
<rect x="212" y="737" width="1" height="24" fill="#c0c0c0"/>
<rect x="220" y="741" width="1" height="20" fill="#c0c0c0"/>
<rect x="228" y="744" width="1" height="17" fill="#c0c0c0"/>
<rect x="236" y="747" width="1" height="14" fill="#c0c0c0"/>
<rect x="244" y="746" width="1" height="15" fill="#c0c0c0"/>
<rect x="252" y="743" width="1" height="18" fill="#c0c0c0"/>
<rect x="260" y="739" width="1" height="22" fill="#c0c0c0"/>
<rect x="268" y="738" width="1" height="23" fill="#c0c0c0"/>
<rect x="276" y="739" width="1" height="22" fill="#c0c0c0"/>
<rect x="284" y="740" width="1" height="21" fill="#c0c0c0"/>
<rect x="292" y="740" width="1" height="21" fill="#c0c0c0"/>
<rect x="300" y="737" width="1" height="24" fill="#c0c0c0"/>
<rect x="308" y="737" width="1" height="24" fill="#c0c0c0"/>
<rect x="316" y="734" width="1" height="27" fill="#c0c0c0"/>
<rect x="324" y="733" width="1" height="28" fill="#c0c0c0"/>
<rect x="332" y="732" width="1" height="29" fill="#c0c0c0"/>
<rect x="340" y="727" width="1" height="34" fill="#c0c0c0"/>
<rect x="348" y="720" width="1" height="41" fill="#c0c0c0"/>
<rect x="356" y="712" width="1" height="49" fill="#c0c0c0"/>
<rect x="364" y="706" width="1" height="55" fill="#c0c0c0"/>
<rect x="372" y="701" width="1" height="60" fill="#c0c0c0"/>
<rect x="380" y="698" width="1" height="63" fill="#c0c0c0"/>
<rect x="388" y="696" width="1" height="65" fill="#c0c0c0"/>
<rect x="396" y="696" width="1" height="65" fill="#c0c0c0"/>
<rect x="404" y="695" width="1" height="66" fill="#c0c0c0"/>
<rect x="412" y="699" width="1" height="62" fill="#c0c0c0"/>
<rect x="420" y="705" width="1" height="56" fill="#c0c0c0"/>
<rect x="428" y="710" width="1" height="51" fill="#c0c0c0"/>
<rect x="436" y="715" width="1" height="46" fill="#c0c0c0"/>
<rect x="444" y="718" width="1" height="43" fill="#c0c0c0"/>
<rect x="452" y="720" width="1" height="41" fill="#c0c0c0"/>
<rect x="460" y="724" width="1" height="37" fill="#c0c0c0"/>
<rect x="468" y="727" width="1" height="34" fill="#c0c0c0"/>
<rect x="476" y="731" width="1" height="30" fill="#c0c0c0"/>
<rect x="484" y="731" width="1" height="30" fill="#c0c0c0"/>
<rect x="492" y="730" width="1" height="31" fill="#c0c0c0"/>
<rect x="500" y="733" width="1" height="28" fill="#c0c0c0"/>
<rect x="508" y="736" width="1" height="25" fill="#c0c0c0"/>
<rect x="516" y="738" width="1" height="23" fill="#c0c0c0"/>
<rect x="524" y="740" width="1" height="21" fill="#c0c0c0"/>
<rect x="532" y="743" width="1" height="18" fill="#c0c0c0"/>
<rect x="540" y="743" width="1" height="18" fill="#c0c0c0"/>
<rect x="548" y="743" width="1" height="18" fill="#c0c0c0"/>
<rect x="556" y="743" width="1" height="18" fill="#c0c0c0"/>
<rect x="564" y="742" width="1" height="19" fill="#c0c0c0"/>
<rect x="572" y="742" width="1" height="19" fill="#c0c0c0"/>
<rect x="580" y="741" width="1" height="20" fill="#c0c0c0"/>
<rect x="588" y="740" width="1" height="21" fill="#c0c0c0"/>
<rect x="596" y="740" width="1" height="21" fill="#c0c0c0"/>
<rect x="604" y="741" width="1" height="20" fill="#c0c0c0"/>
<rect x="612" y="741" width="1" height="20" fill="#c0c0c0"/>
<rect x="620" y="742" width="1" height="19" fill="#c0c0c0"/>
<rect x="628" y="742" width="1" height="19" fill="#c0c0c0"/>
<rect x="636" y="742" width="1" height="19" fill="#c0c0c0"/>
<rect x="644" y="742" width="1" height="19" fill="#c0c0c0"/>
<rect x="652" y="741" width="1" height="20" fill="#c0c0c0"/>
<rect x="660" y="742" width="1" height="19" fill="#c0c0c0"/>
<rect x="668" y="742" width="1" height="19" fill="#c0c0c0"/>
<rect x="676" y="741" width="1" height="20" fill="#c0c0c0"/>
<rect x="684" y="738" width="1" height="23" fill="#c0c0c0"/>
<rect x="692" y="735" width="1" height="26" fill="#c0c0c0"/>
<rect x="700" y="732" width="1" height="29" fill="#c0c0c0"/>
<rect x="708" y="732" width="1" height="29" fill="#c0c0c0"/>
<rect x="716" y="733" width="1" height="28" fill="#c0c0c0"/>
<rect x="724" y="732" width="1" height="29" fill="#c0c0c0"/>
<rect x="732" y="730" width="1" height="31" fill="#c0c0c0"/>
<rect x="740" y="729" width="1" height="32" fill="#c0c0c0"/>
<rect x="748" y="730" width="1" height="31" fill="#c0c0c0"/>
<rect x="756" y="730" width="1" height="31" fill="#c0c0c0"/>
<rect x="764" y="731" width="1" height="30" fill="#c0c0c0"/>
<rect x="772" y="734" width="1" height="27" fill="#c0c0c0"/>
<rect x="780" y="735" width="1" height="26" fill="#c0c0c0"/>
<rect x="788" y="733" width="1" height="28" fill="#c0c0c0"/>
<rect x="796" y="731" width="1" height="30" fill="#c0c0c0"/>
<rect x="804" y="733" width="1" height="28" fill="#c0c0c0"/>
<rect x="812" y="735" width="1" height="26" fill="#c0c0c0"/>
<rect x="820" y="737" width="1" height="24" fill="#c0c0c0"/>
<rect x="828" y="739" width="1" height="22" fill="#c0c0c0"/>
<rect x="836" y="740" width="1" height="21" fill="#c0c0c0"/>
<rect x="844" y="741" width="1" height="20" fill="#c0c0c0"/>
<rect x="852" y="742" width="1" height="19" fill="#c0c0c0"/>
<rect x="860" y="743" width="1" height="18" fill="#c0c0c0"/>
<rect x="868" y="742" width="1" height="19" fill="#c0c0c0"/>
<rect x="876" y="741" width="1" height="20" fill="#c0c0c0"/>
<rect x="884" y="741" width="1" height="20" fill="#c0c0c0"/>
<rect x="892" y="742" width="1" height="19" fill="#c0c0c0"/>
<rect x="900" y="745" width="1" height="16" fill="#c0c0c0"/>
<rect x="908" y="747" width="1" height="14" fill="#c0c0c0"/>
<rect x="916" y="748" width="1" height="13" fill="#c0c0c0"/>
<rect x="924" y="749" width="1" height="12" fill="#c0c0c0"/>
<rect x="932" y="748" width="1" height="13" fill="#c0c0c0"/>
<rect x="940" y="746" width="1" height="15" fill="#c0c0c0"/>
<rect x="948" y="742" width="1" height="19" fill="#c0c0c0"/>
<rect x="956" y="738" width="1" height="23" fill="#c0c0c0"/>
<rect x="964" y="734" width="1" height="27" fill="#c0c0c0"/>
<rect x="972" y="732" width="1" height="29" fill="#c0c0c0"/>
<rect x="980" y="732" width="1" height="29" fill="#c0c0c0"/>
<rect x="988" y="735" width="1" height="26" fill="#c0c0c0"/>
<rect x="996" y="737" width="1" height="24" fill="#c0c0c0"/>
<rect x="1004" y="739" width="1" height="22" fill="#c0c0c0"/>
<rect x="1012" y="741" width="1" height="20" fill="#c0c0c0"/>
<rect x="1020" y="744" width="1" height="17" fill="#c0c0c0"/>
<rect x="1028" y="746" width="1" height="15" fill="#c0c0c0"/>
<rect x="1036" y="746" width="1" height="15" fill="#c0c0c0"/>
<rect x="1044" y="747" width="1" height="14" fill="#c0c0c0"/>
<rect x="1052" y="749" width="1" height="12" fill="#c0c0c0"/>
<rect x="1060" y="749" width="1" height="12" fill="#c0c0c0"/>
<rect x="1068" y="749" width="1" height="12" fill="#c0c0c0"/>
<rect x="1076" y="748" width="1" height="13" fill="#c0c0c0"/>
<rect x="1084" y="749" width="1" height="12" fill="#c0c0c0"/>
<rect x="1092" y="749" width="1" height="12" fill="#c0c0c0"/>
<rect x="1100" y="750" width="1" height="11" fill="#c0c0c0"/>
<rect x="1108" y="754" width="1" height="7" fill="#c0c0c0"/>
<rect x="1116" y="758" width="1" height="3" fill="#c0c0c0"/>
<rect x="1124" y="760" width="1" height="4" fill="#c0c0c0"/>
<rect x="1132" y="760" width="1" height="11" fill="#c0c0c0"/>
<rect x="1140" y="760" width="1" height="18" fill="#c0c0c0"/>
<rect x="1148" y="760" width="1" height="22" fill="#c0c0c0"/>
<rect x="1156" y="760" width="1" height="24" fill="#c0c0c0"/>
<rect x="1164" y="760" width="1" height="23" fill="#c0c0c0"/>
<rect x="1172" y="760" width="1" height="21" fill="#c0c0c0"/>
<rect x="1180" y="760" width="1" height="17" fill="#c0c0c0"/>
<rect x="1188" y="760" width="1" height="16" fill="#c0c0c0"/>
<rect x="1196" y="760" width="1" height="15" fill="#c0c0c0"/>
<rect x="1204" y="760" width="1" height="12" fill="#c0c0c0"/>
<rect x="1212" y="760" width="1" height="12" fill="#c0c0c0"/>
<rect x="1220" y="760" width="1" height="11" fill="#c0c0c0"/>
<rect x="1228" y="760" width="1" height="10" fill="#c0c0c0"/>
<rect x="1236" y="760" width="1" height="6" fill="#c0c0c0"/>
<rect x="1244" y="760" width="1" height="3" fill="#c0c0c0"/>
<rect x="1252" y="760" width="1" height="2" fill="#c0c0c0"/>
<rect x="1260" y="760" width="1" height="2" fill="#c0c0c0"/>
<path d="M418 700h3v1h-3zM424 700h3v1h-3zM430 700h3v1h-3zM412 701h3v1h-3zM436 701h3v1h-3zM442 702h1v1h-1zM406 703h3v1h-3zM443 703h2v1h-2zM448 704h3v1h-3zM402 705h1v1h-1zM401 706h1v1h-1zM454 706h3v1h-3zM400 707h1v1h-1zM460 708h2v1h-2zM395 709h2v1h-2zM462 709h1v1h-1zM394 710h1v1h-1zM466 710h1v1h-1zM390 711h1v1h-1zM467 711h2v1h-2zM388 712h2v1h-2zM472 713h2v1h-2zM384 714h1v1h-1zM474 714h1v1h-1zM382 715h2v1h-2zM478 716h3v1h-3zM378 717h1v1h-1zM377 718h1v1h-1zM484 718h2v1h-2zM376 719h1v1h-1zM486 719h1v1h-1zM371 721h2v1h-2zM490 721h2v1h-2zM370 722h1v1h-1zM492 722h1v1h-1zM366 723h1v1h-1zM496 723h3v1h-3zM364 724h2v1h-2zM502 725h3v1h-3zM359 727h2v1h-2zM508 727h3v1h-3zM358 728h1v1h-1zM514 728h1v1h-1zM515 729h2v1h-2zM353 730h2v1h-2zM520 730h3v1h-3zM754 730h3v1h-3zM760 730h3v1h-3zM766 730h3v1h-3zM772 730h3v1h-3zM154 731h3v1h-3zM160 731h3v1h-3zM166 731h3v1h-3zM172 731h3v1h-3zM178 731h3v1h-3zM184 731h1v1h-1zM352 731h1v1h-1zM526 731h1v1h-1zM748 731h3v1h-3zM778 731h3v1h-3zM784 731h3v1h-3zM790 731h3v1h-3zM796 731h3v1h-3zM802 731h3v1h-3zM808 731h1v1h-1zM148 732h3v1h-3zM185 732h2v1h-2zM190 732h3v1h-3zM347 732h2v1h-2zM527 732h2v1h-2zM742 732h3v1h-3zM809 732h2v1h-2zM814 732h3v1h-3zM820 732h3v1h-3zM130 733h3v1h-3zM136 733h3v1h-3zM142 733h3v1h-3zM196 733h3v1h-3zM202 733h3v1h-3zM208 733h1v1h-1zM346 733h1v1h-1zM532 733h3v1h-3zM736 733h3v1h-3zM826 733h3v1h-3zM832 733h1v1h-1zM124 734h3v1h-3zM209 734h2v1h-2zM214 734h3v1h-3zM220 734h3v1h-3zM340 734h3v1h-3zM538 734h1v1h-1zM730 734h3v1h-3zM833 734h2v1h-2zM838 734h3v1h-3zM119 735h2v1h-2zM226 735h3v1h-3zM329 735h2v1h-2zM334 735h3v1h-3zM539 735h2v1h-2zM724 735h3v1h-3zM844 735h3v1h-3zM118 736h1v1h-1zM232 736h3v1h-3zM322 736h3v1h-3zM328 736h1v1h-1zM544 736h3v1h-3zM718 736h3v1h-3zM850 736h3v1h-3zM856 736h1v1h-1zM1001 736h2v1h-2zM1006 736h3v1h-3zM1012 736h3v1h-3zM1018 736h3v1h-3zM1024 736h1v1h-1zM112 737h3v1h-3zM238 737h3v1h-3zM316 737h3v1h-3zM550 737h3v1h-3zM712 737h3v1h-3zM857 737h2v1h-2zM862 737h3v1h-3zM868 737h3v1h-3zM995 737h2v1h-2zM1000 737h1v1h-1zM1025 737h2v1h-2zM1030 737h3v1h-3zM1036 737h3v1h-3zM106 738h3v1h-3zM244 738h3v1h-3zM311 738h2v1h-2zM556 738h3v1h-3zM562 738h3v1h-3zM706 738h3v1h-3zM874 738h1v1h-1zM994 738h1v1h-1zM1042 738h1v1h-1zM100 739h3v1h-3zM250 739h3v1h-3zM256 739h1v1h-1zM298 739h3v1h-3zM304 739h3v1h-3zM310 739h1v1h-1zM568 739h3v1h-3zM700 739h3v1h-3zM875 739h2v1h-2zM880 739h1v1h-1zM988 739h3v1h-3zM1043 739h2v1h-2zM82 740h3v1h-3zM88 740h3v1h-3zM94 740h3v1h-3zM257 740h2v1h-2zM262 740h3v1h-3zM268 740h3v1h-3zM274 740h3v1h-3zM280 740h3v1h-3zM286 740h3v1h-3zM292 740h3v1h-3zM574 740h3v1h-3zM580 740h3v1h-3zM586 740h3v1h-3zM592 740h3v1h-3zM598 740h3v1h-3zM604 740h3v1h-3zM610 740h3v1h-3zM616 740h3v1h-3zM622 740h3v1h-3zM628 740h3v1h-3zM634 740h3v1h-3zM640 740h3v1h-3zM646 740h3v1h-3zM652 740h3v1h-3zM658 740h3v1h-3zM664 740h1v1h-1zM682 740h3v1h-3zM688 740h3v1h-3zM694 740h3v1h-3zM881 740h2v1h-2zM886 740h3v1h-3zM892 740h3v1h-3zM898 740h3v1h-3zM982 740h3v1h-3zM1048 740h3v1h-3zM76 741h3v1h-3zM665 741h2v1h-2zM670 741h3v1h-3zM676 741h3v1h-3zM904 741h3v1h-3zM976 741h3v1h-3zM1054 741h3v1h-3zM70 742h3v1h-3zM910 742h3v1h-3zM970 742h3v1h-3zM1060 742h3v1h-3zM64 743h3v1h-3zM916 743h3v1h-3zM922 743h3v1h-3zM928 743h1v1h-1zM964 743h3v1h-3zM1066 743h1v1h-1zM59 744h2v1h-2zM929 744h2v1h-2zM934 744h3v1h-3zM940 744h3v1h-3zM946 744h3v1h-3zM952 744h3v1h-3zM958 744h3v1h-3zM1067 744h2v1h-2zM58 745h1v1h-1zM1072 745h3v1h-3zM52 746h3v1h-3zM1078 746h3v1h-3zM1084 746h3v1h-3zM1090 747h3v1h-3zM1096 747h3v1h-3zM1102 747h3v1h-3zM48 748h1v1h-1zM1108 748h3v1h-3zM46 749h2v1h-2zM1114 749h3v1h-3zM1120 749h1v1h-1zM1121 750h2v1h-2zM1126 750h1v1h-1zM42 751h1v1h-1zM1127 751h2v1h-2zM41 752h1v1h-1zM1132 752h2v1h-2zM40 753h1v1h-1zM1134 753h1v1h-1zM36 755h1v1h-1zM1138 755h2v1h-2zM35 756h1v1h-1zM1140 756h1v1h-1zM34 757h1v1h-1zM1144 758h2v1h-2zM1146 759h1v1h-1zM29 760h2v1h-2zM28 761h1v1h-1zM1150 761h1v1h-1zM1151 762h2v1h-2zM24 764h1v1h-1zM23 765h1v1h-1zM1156 765h2v1h-2zM22 766h1v1h-1zM1158 766h1v1h-1zM1162 767h1v1h-1zM1163 768h2v1h-2zM1259 768h1v1h-1zM18 769h1v1h-1zM1258 769h1v1h-1zM17 770h1v1h-1zM1168 770h2v1h-2zM1252 770h3v1h-3zM16 771h1v1h-1zM1170 771h1v1h-1zM1247 771h2v1h-2zM1241 772h2v1h-2zM1246 772h1v1h-1zM1174 773h3v1h-3zM1235 773h2v1h-2zM1240 773h1v1h-1zM12 774h1v1h-1zM1234 774h1v1h-1zM11 775h1v1h-1zM1180 775h3v1h-3zM1228 775h3v1h-3zM10 776h1v1h-1zM1186 776h1v1h-1zM1223 776h2v1h-2zM1187 777h2v1h-2zM1217 777h2v1h-2zM1222 777h1v1h-1zM1192 778h3v1h-3zM1210 778h3v1h-3zM1216 778h1v1h-1zM6 779h1v1h-1zM1198 779h3v1h-3zM1204 779h3v1h-3zM5 780h1v1h-1zM4 781h1v1h-1z" fill="#ff0000"/>
</g>
<text x="8" y="701" font-size="10.2" fill="#000" textLength="153.7" lengthAdjust="spacingAndGlyphs">MACD(12,26,9) -0.000322 -0.001663</text>
<text x="1600.4" y="699.5" font-size="10.2" fill="#000" textLength="36.5" lengthAdjust="spacingAndGlyphs">0.014861</text>
<text x="1600.4" y="763.9" font-size="10.2" fill="#000" textLength="17.6" lengthAdjust="spacingAndGlyphs">0.00</text>
<text x="1600.4" y="785.5" font-size="10.2" fill="#000" textLength="40" lengthAdjust="spacingAndGlyphs">-0.005938</text>
<g shape-rendering="crispEdges">
<rect x="4" y="790" width="1" height="3" fill="#000"/>
<rect x="68" y="790" width="1" height="3" fill="#000"/>
<rect x="132" y="790" width="1" height="3" fill="#000"/>
<rect x="196" y="790" width="1" height="3" fill="#000"/>
<rect x="260" y="790" width="1" height="3" fill="#000"/>
<rect x="324" y="790" width="1" height="3" fill="#000"/>
<rect x="388" y="790" width="1" height="3" fill="#000"/>
<rect x="452" y="790" width="1" height="3" fill="#000"/>
<rect x="516" y="790" width="1" height="3" fill="#000"/>
<rect x="580" y="790" width="1" height="3" fill="#000"/>
<rect x="644" y="790" width="1" height="3" fill="#000"/>
<rect x="708" y="790" width="1" height="3" fill="#000"/>
<rect x="772" y="790" width="1" height="3" fill="#000"/>
<rect x="836" y="790" width="1" height="3" fill="#000"/>
<rect x="900" y="790" width="1" height="3" fill="#000"/>
<rect x="964" y="790" width="1" height="3" fill="#000"/>
<rect x="1028" y="790" width="1" height="3" fill="#000"/>
<rect x="1092" y="790" width="1" height="3" fill="#000"/>
<rect x="1156" y="790" width="1" height="3" fill="#000"/>
<rect x="1220" y="790" width="1" height="3" fill="#000"/>
</g>
<text x="3.4" y="802" font-size="10.2" fill="#000" textLength="50.5" lengthAdjust="spacingAndGlyphs">13 Apr 2020</text>
<text x="67.4" y="802" font-size="10.2" fill="#000" textLength="50.5" lengthAdjust="spacingAndGlyphs">22 Apr 2020</text>
<text x="131.4" y="802" font-size="10.2" fill="#000" textLength="48.9" lengthAdjust="spacingAndGlyphs">1 May 2020</text>
<text x="195.4" y="802" font-size="10.2" fill="#000" textLength="53.4" lengthAdjust="spacingAndGlyphs">11 May 2020</text>
<text x="259.4" y="802" font-size="10.2" fill="#000" textLength="54.1" lengthAdjust="spacingAndGlyphs">20 May 2020</text>
<text x="323.4" y="802" font-size="10.2" fill="#000" textLength="54.1" lengthAdjust="spacingAndGlyphs">29 May 2020</text>
<text x="387.4" y="802" font-size="10.2" fill="#000" textLength="46.3" lengthAdjust="spacingAndGlyphs">8 Jun 2020</text>
<text x="451.4" y="802" font-size="10.2" fill="#000" textLength="51.5" lengthAdjust="spacingAndGlyphs">17 Jun 2020</text>
<text x="515.4" y="802" font-size="10.2" fill="#000" textLength="51.5" lengthAdjust="spacingAndGlyphs">26 Jun 2020</text>
<text x="579.4" y="802" font-size="10.2" fill="#000" textLength="43.2" lengthAdjust="spacingAndGlyphs">6 Jul 2020</text>
<text x="643.4" y="802" font-size="10.2" fill="#000" textLength="48.4" lengthAdjust="spacingAndGlyphs">15 Jul 2020</text>
<text x="707.4" y="802" font-size="10.2" fill="#000" textLength="48.4" lengthAdjust="spacingAndGlyphs">24 Jul 2020</text>
<text x="771.4" y="802" font-size="10.2" fill="#000" textLength="47.4" lengthAdjust="spacingAndGlyphs">3 Aug 2020</text>
<text x="835.4" y="802" font-size="10.2" fill="#000" textLength="52.6" lengthAdjust="spacingAndGlyphs">12 Aug 2020</text>
<text x="899.4" y="802" font-size="10.2" fill="#000" textLength="52.6" lengthAdjust="spacingAndGlyphs">21 Aug 2020</text>
<text x="963.4" y="802" font-size="10.2" fill="#000" textLength="52.6" lengthAdjust="spacingAndGlyphs">31 Aug 2020</text>
<text x="1027.4" y="802" font-size="10.2" fill="#000" textLength="47.9" lengthAdjust="spacingAndGlyphs">9 Sep 2020</text>
<text x="1091.4" y="802" font-size="10.2" fill="#000" textLength="53.1" lengthAdjust="spacingAndGlyphs">18 Sep 2020</text>
<text x="1155.4" y="802" font-size="10.2" fill="#000" textLength="53.1" lengthAdjust="spacingAndGlyphs">28 Sep 2020</text>
<text x="1219.4" y="802" font-size="10.2" fill="#000" textLength="45.8" lengthAdjust="spacingAndGlyphs">7 Oct 2020</text>
<g shape-rendering="crispEdges">
<rect x="0" y="810" width="1639" height="1" fill="#e3e3e3"/>
<rect x="0" y="812" width="1639" height="1" fill="#000"/>
<rect x="0" y="813" width="1639" height="18" fill="#f0f0f0"/>
<rect x="0" y="831" width="1639" height="2" fill="#fafafa"/>
<rect x="0" y="833" width="1639" height="2" fill="#f0f0f0"/>
<rect x="0" y="813" width="1" height="17" fill="#696969"/>
<rect x="208" y="813" width="1" height="18" fill="#fff"/>
<rect x="209" y="811" width="104" height="20" fill="#fff"/>
<rect x="209" y="812" width="1" height="19" fill="#000"/>
<rect x="312" y="812" width="1" height="19" fill="#000"/>
<rect x="209" y="830" width="104" height="1" fill="#000"/>
<rect x="109" y="815" width="1" height="13" fill="#808080"/>
<rect x="417" y="815" width="1" height="13" fill="#808080"/>
<rect x="521" y="815" width="1" height="13" fill="#808080"/>
<rect x="625" y="815" width="1" height="13" fill="#808080"/>
<rect x="717" y="815" width="1" height="13" fill="#808080"/>
<rect x="809" y="815" width="1" height="13" fill="#808080"/>
<rect x="881" y="815" width="1" height="13" fill="#808080"/>
<rect x="961" y="815" width="1" height="13" fill="#808080"/>
<rect x="1041" y="815" width="1" height="13" fill="#808080"/>
<rect x="1121" y="815" width="1" height="13" fill="#808080"/>
<rect x="1197" y="815" width="1" height="13" fill="#808080"/>
<rect x="1269" y="815" width="1" height="13" fill="#808080"/>
<rect x="1353" y="815" width="1" height="13" fill="#808080"/>
<rect x="1433" y="815" width="1" height="13" fill="#808080"/>
<rect x="1533" y="815" width="1" height="13" fill="#808080"/>
<rect x="1605" y="815" width="1" height="13" fill="#808080"/>
</g>
<text x="17" y="827" font-size="13" fill="#606060" textLength="80" lengthAdjust="spacingAndGlyphs">EURUSD,Daily</text>
<text x="119.5" y="827" font-size="13" fill="#606060" textLength="78.5" lengthAdjust="spacingAndGlyphs">USDCHF,Daily</text>
<text x="220" y="827" font-size="13" fill="#000" textLength="82" lengthAdjust="spacingAndGlyphs">AUDUSD,Daily</text>
<text x="324.3" y="827" font-size="13" fill="#606060" textLength="80.3" lengthAdjust="spacingAndGlyphs">USDCAD,Daily</text>
<text x="427" y="827" font-size="13" fill="#606060" textLength="83" lengthAdjust="spacingAndGlyphs">USDCNH,Daily</text>
<text x="533" y="827" font-size="13" fill="#606060" textLength="80" lengthAdjust="spacingAndGlyphs">EURUSD,Daily</text>
<text x="637" y="827" font-size="13" fill="#606060" textLength="67.6" lengthAdjust="spacingAndGlyphs">GBPUSD,H4</text>
<text x="728" y="827" font-size="13" fill="#606060" textLength="68.4" lengthAdjust="spacingAndGlyphs">XAUUSD,H1</text>
<text x="820" y="827" font-size="13" fill="#606060" textLength="49.5" lengthAdjust="spacingAndGlyphs">HK50,H1</text>
<text x="892.5" y="827" font-size="13" fill="#606060" textLength="56.0" lengthAdjust="spacingAndGlyphs">UK100,H1</text>
<text x="972.5" y="827" font-size="13" fill="#606060" textLength="55.5" lengthAdjust="spacingAndGlyphs">UK100,H1</text>
<text x="1052.6" y="827" font-size="13" fill="#606060" textLength="55.4" lengthAdjust="spacingAndGlyphs">GER30,H1</text>
<text x="1131.4" y="827" font-size="13" fill="#606060" textLength="53.3" lengthAdjust="spacingAndGlyphs">FRA40,H1</text>
<text x="1207" y="827" font-size="13" fill="#606060" textLength="50.8" lengthAdjust="spacingAndGlyphs">USOil,H4</text>
<text x="1279" y="827" font-size="13" fill="#606060" textLength="63" lengthAdjust="spacingAndGlyphs">USDJPY,H1</text>
<text x="1363.3" y="827" font-size="13" fill="#606060" textLength="58.7" lengthAdjust="spacingAndGlyphs">DJ30,Daily</text>
<text x="1443.4" y="827" font-size="13" fill="#606060" textLength="77.6" lengthAdjust="spacingAndGlyphs">CHINA300,H1</text>
<text x="1543.4" y="827" font-size="13" fill="#606060" textLength="49.6" lengthAdjust="spacingAndGlyphs">USOil,H1</text>
<path d="M1615 818.5 V824.5 L1611.8 821.5Z" fill="#a0a0a0"/>
<path d="M1631 818 V825 L1634.5 821.5Z" fill="#000"/>
</svg></body></html>
